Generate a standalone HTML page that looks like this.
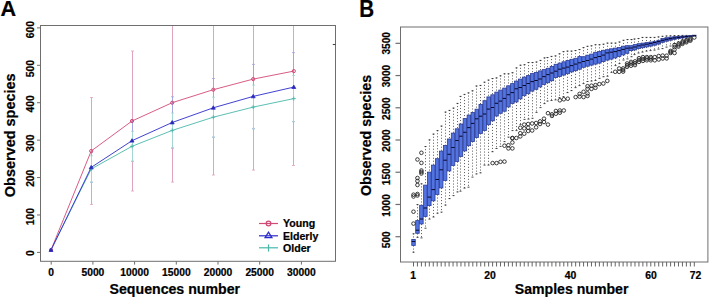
<!DOCTYPE html>
<html><head><meta charset="utf-8"><style>
html,body{margin:0;padding:0;background:#fff;}
svg{display:block;}
text{font-family:"Liberation Sans", sans-serif;fill:#000;stroke:#000;stroke-width:0.22px;}
</style></head><body>
<svg width="710" height="299" viewBox="0 0 710 299">
<rect width="710" height="299" fill="#fff"/>
<rect x="40.5" y="25.5" width="295" height="235.8" fill="none" stroke="#6e6e6e" stroke-width="1"/>
<line x1="37" y1="252.40" x2="40.5" y2="252.40" stroke="#6e6e6e" stroke-width="1"/>
<text transform="translate(34.4 253.10) rotate(-90)" text-anchor="middle" font-size="10.3" font-weight="bold">0</text>
<line x1="37" y1="214.98" x2="40.5" y2="214.98" stroke="#6e6e6e" stroke-width="1"/>
<text transform="translate(34.4 216.68) rotate(-90)" text-anchor="middle" font-size="10.3" font-weight="bold">100</text>
<line x1="37" y1="177.57" x2="40.5" y2="177.57" stroke="#6e6e6e" stroke-width="1"/>
<text transform="translate(34.4 178.27) rotate(-90)" text-anchor="middle" font-size="10.3" font-weight="bold">200</text>
<line x1="37" y1="140.15" x2="40.5" y2="140.15" stroke="#6e6e6e" stroke-width="1"/>
<text transform="translate(34.4 143.15) rotate(-90)" text-anchor="middle" font-size="10.3" font-weight="bold">300</text>
<line x1="37" y1="102.73" x2="40.5" y2="102.73" stroke="#6e6e6e" stroke-width="1"/>
<text transform="translate(34.4 103.83) rotate(-90)" text-anchor="middle" font-size="10.3" font-weight="bold">400</text>
<line x1="37" y1="65.31" x2="40.5" y2="65.31" stroke="#6e6e6e" stroke-width="1"/>
<text transform="translate(34.4 68.72) rotate(-90)" text-anchor="middle" font-size="10.3" font-weight="bold">500</text>
<line x1="37" y1="27.90" x2="40.5" y2="27.90" stroke="#6e6e6e" stroke-width="1"/>
<text transform="translate(34.4 29.65) rotate(-90)" text-anchor="middle" font-size="10.3" font-weight="bold">600</text>
<line x1="51.20" y1="261.3" x2="51.20" y2="264.6" stroke="#6e6e6e" stroke-width="1"/>
<text x="51.20" y="276.2" text-anchor="middle" font-size="10.3" font-weight="bold">0</text>
<line x1="92.90" y1="261.3" x2="92.90" y2="264.6" stroke="#6e6e6e" stroke-width="1"/>
<text x="92.90" y="276.2" text-anchor="middle" font-size="10.3" font-weight="bold">5000</text>
<line x1="134.60" y1="261.3" x2="134.60" y2="264.6" stroke="#6e6e6e" stroke-width="1"/>
<text x="134.60" y="276.2" text-anchor="middle" font-size="10.3" font-weight="bold">10000</text>
<line x1="176.30" y1="261.3" x2="176.30" y2="264.6" stroke="#6e6e6e" stroke-width="1"/>
<text x="176.30" y="276.2" text-anchor="middle" font-size="10.3" font-weight="bold">15000</text>
<line x1="218.00" y1="261.3" x2="218.00" y2="264.6" stroke="#6e6e6e" stroke-width="1"/>
<text x="218.00" y="276.2" text-anchor="middle" font-size="10.3" font-weight="bold">20000</text>
<line x1="259.70" y1="261.3" x2="259.70" y2="264.6" stroke="#6e6e6e" stroke-width="1"/>
<text x="259.70" y="276.2" text-anchor="middle" font-size="10.3" font-weight="bold">25000</text>
<line x1="301.40" y1="261.3" x2="301.40" y2="264.6" stroke="#6e6e6e" stroke-width="1"/>
<text x="301.40" y="276.2" text-anchor="middle" font-size="10.3" font-weight="bold">30000</text>
<line x1="332.8" y1="44.5" x2="335.5" y2="44.5" stroke="#444" stroke-width="1.1"/>
<text x="174.8" y="293.9" text-anchor="middle" font-size="14" font-weight="bold" textLength="130.5" lengthAdjust="spacingAndGlyphs">Sequences number</text>
<text transform="translate(14.6 135.3) rotate(-90)" text-anchor="middle" font-size="14.2" font-weight="bold" textLength="123.7" lengthAdjust="spacingAndGlyphs">Observed species</text>
<text x="0.6" y="15.7" font-size="22.8" font-weight="bold" textLength="15.6" lengthAdjust="spacingAndGlyphs">A</text>
<defs><clipPath id="ca"><rect x="41" y="26" width="294" height="235"/></clipPath></defs>
<g clip-path="url(#ca)">
<line x1="91.5" y1="97.50" x2="91.5" y2="204.50" stroke="#dfa4bd" stroke-width="1"/>
<line x1="90.0" y1="97.50" x2="93.0" y2="97.50" stroke="#dfa4bd" stroke-width="0.9" opacity="0.9"/>
<line x1="90.0" y1="204.50" x2="93.0" y2="204.50" stroke="#dfa4bd" stroke-width="0.9" opacity="0.9"/>
<line x1="132.5" y1="51.00" x2="132.5" y2="191.00" stroke="#dfa4bd" stroke-width="1"/>
<line x1="131.0" y1="51.00" x2="134.0" y2="51.00" stroke="#dfa4bd" stroke-width="0.9" opacity="0.9"/>
<line x1="131.0" y1="191.00" x2="134.0" y2="191.00" stroke="#dfa4bd" stroke-width="0.9" opacity="0.9"/>
<line x1="172.5" y1="23.30" x2="172.5" y2="182.10" stroke="#dfa4bd" stroke-width="1"/>
<line x1="171.0" y1="23.30" x2="174.0" y2="23.30" stroke="#dfa4bd" stroke-width="0.9" opacity="0.9"/>
<line x1="171.0" y1="182.10" x2="174.0" y2="182.10" stroke="#dfa4bd" stroke-width="0.9" opacity="0.9"/>
<line x1="213.5" y1="4.40" x2="213.5" y2="175.00" stroke="#dfa4bd" stroke-width="1"/>
<line x1="212.0" y1="4.40" x2="215.0" y2="4.40" stroke="#dfa4bd" stroke-width="0.9" opacity="0.9"/>
<line x1="212.0" y1="175.00" x2="215.0" y2="175.00" stroke="#dfa4bd" stroke-width="0.9" opacity="0.9"/>
<line x1="253.5" y1="-11.90" x2="253.5" y2="170.10" stroke="#dfa4bd" stroke-width="1"/>
<line x1="252.0" y1="-11.90" x2="255.0" y2="-11.90" stroke="#dfa4bd" stroke-width="0.9" opacity="0.9"/>
<line x1="252.0" y1="170.10" x2="255.0" y2="170.10" stroke="#dfa4bd" stroke-width="0.9" opacity="0.9"/>
<line x1="293.5" y1="-23.30" x2="293.5" y2="165.50" stroke="#dfa4bd" stroke-width="1"/>
<line x1="292.0" y1="-23.30" x2="295.0" y2="-23.30" stroke="#dfa4bd" stroke-width="0.9" opacity="0.9"/>
<line x1="292.0" y1="165.50" x2="295.0" y2="165.50" stroke="#dfa4bd" stroke-width="0.9" opacity="0.9"/>
<line x1="91.5" y1="152.60" x2="91.5" y2="182.20" stroke="#a4a4e2" stroke-width="1"/>
<line x1="90.0" y1="152.60" x2="93.0" y2="152.60" stroke="#a4a4e2" stroke-width="0.9" opacity="0.9"/>
<line x1="90.0" y1="182.20" x2="93.0" y2="182.20" stroke="#a4a4e2" stroke-width="0.9" opacity="0.9"/>
<line x1="132.5" y1="120.10" x2="132.5" y2="161.30" stroke="#a4a4e2" stroke-width="1"/>
<line x1="131.0" y1="120.10" x2="134.0" y2="120.10" stroke="#a4a4e2" stroke-width="0.9" opacity="0.9"/>
<line x1="131.0" y1="161.30" x2="134.0" y2="161.30" stroke="#a4a4e2" stroke-width="0.9" opacity="0.9"/>
<line x1="172.5" y1="96.80" x2="172.5" y2="148.20" stroke="#a4a4e2" stroke-width="1"/>
<line x1="171.0" y1="96.80" x2="174.0" y2="96.80" stroke="#a4a4e2" stroke-width="0.9" opacity="0.9"/>
<line x1="171.0" y1="148.20" x2="174.0" y2="148.20" stroke="#a4a4e2" stroke-width="0.9" opacity="0.9"/>
<line x1="213.5" y1="78.50" x2="213.5" y2="137.10" stroke="#a4a4e2" stroke-width="1"/>
<line x1="212.0" y1="78.50" x2="215.0" y2="78.50" stroke="#a4a4e2" stroke-width="0.9" opacity="0.9"/>
<line x1="212.0" y1="137.10" x2="215.0" y2="137.10" stroke="#a4a4e2" stroke-width="0.9" opacity="0.9"/>
<line x1="253.5" y1="64.40" x2="253.5" y2="128.40" stroke="#a4a4e2" stroke-width="1"/>
<line x1="252.0" y1="64.40" x2="255.0" y2="64.40" stroke="#a4a4e2" stroke-width="0.9" opacity="0.9"/>
<line x1="252.0" y1="128.40" x2="255.0" y2="128.40" stroke="#a4a4e2" stroke-width="0.9" opacity="0.9"/>
<line x1="293.5" y1="52.60" x2="293.5" y2="121.60" stroke="#a4a4e2" stroke-width="1"/>
<line x1="292.0" y1="52.60" x2="295.0" y2="52.60" stroke="#a4a4e2" stroke-width="0.9" opacity="0.9"/>
<line x1="292.0" y1="121.60" x2="295.0" y2="121.60" stroke="#a4a4e2" stroke-width="0.9" opacity="0.9"/>
<line x1="91.5" y1="155.80" x2="91.5" y2="182.20" stroke="#a4d6d2" stroke-width="1"/>
<line x1="90.0" y1="155.80" x2="93.0" y2="155.80" stroke="#a4d6d2" stroke-width="0.9" opacity="0.9"/>
<line x1="90.0" y1="182.20" x2="93.0" y2="182.20" stroke="#a4d6d2" stroke-width="0.9" opacity="0.9"/>
<line x1="132.5" y1="131.30" x2="132.5" y2="161.30" stroke="#a4d6d2" stroke-width="1"/>
<line x1="131.0" y1="131.30" x2="134.0" y2="131.30" stroke="#a4d6d2" stroke-width="0.9" opacity="0.9"/>
<line x1="131.0" y1="161.30" x2="134.0" y2="161.30" stroke="#a4d6d2" stroke-width="0.9" opacity="0.9"/>
<line x1="172.5" y1="113.00" x2="172.5" y2="147.80" stroke="#a4d6d2" stroke-width="1"/>
<line x1="171.0" y1="113.00" x2="174.0" y2="113.00" stroke="#a4d6d2" stroke-width="0.9" opacity="0.9"/>
<line x1="171.0" y1="147.80" x2="174.0" y2="147.80" stroke="#a4d6d2" stroke-width="0.9" opacity="0.9"/>
<line x1="213.5" y1="97.20" x2="213.5" y2="137.20" stroke="#a4d6d2" stroke-width="1"/>
<line x1="212.0" y1="97.20" x2="215.0" y2="97.20" stroke="#a4d6d2" stroke-width="0.9" opacity="0.9"/>
<line x1="212.0" y1="137.20" x2="215.0" y2="137.20" stroke="#a4d6d2" stroke-width="0.9" opacity="0.9"/>
<line x1="253.5" y1="85.10" x2="253.5" y2="129.10" stroke="#a4d6d2" stroke-width="1"/>
<line x1="252.0" y1="85.10" x2="255.0" y2="85.10" stroke="#a4d6d2" stroke-width="0.9" opacity="0.9"/>
<line x1="252.0" y1="129.10" x2="255.0" y2="129.10" stroke="#a4d6d2" stroke-width="0.9" opacity="0.9"/>
<line x1="293.5" y1="75.60" x2="293.5" y2="121.60" stroke="#a4d6d2" stroke-width="1"/>
<line x1="292.0" y1="75.60" x2="295.0" y2="75.60" stroke="#a4d6d2" stroke-width="0.9" opacity="0.9"/>
<line x1="292.0" y1="121.60" x2="295.0" y2="121.60" stroke="#a4d6d2" stroke-width="0.9" opacity="0.9"/>
<polyline points="51,250 91.2,169 132,146.3 172.2,130.4 213.3,117.2 253.2,107.1 293.8,98.6" fill="none" stroke="#48b8aa" stroke-width="0.9"/>
<polyline points="51,250 91.2,151 132,121 172.2,102.7 213.3,89.7 253.2,79.1 293.8,71.1" fill="none" stroke="#d24a76" stroke-width="0.9"/>
<polyline points="51,250 91.2,167.4 132,140.7 172.2,122.5 213.3,107.8 253.2,96.4 293.8,87.1" fill="none" stroke="#2b2bcc" stroke-width="0.9"/>
<path d="M49,250 H53 M51,248 V252" stroke="#48b8aa" stroke-width="0.9"/>
<path d="M89.2,169 H93.2 M91.2,167 V171" stroke="#48b8aa" stroke-width="0.9"/>
<path d="M130,146.3 H134 M132,144.3 V148.3" stroke="#48b8aa" stroke-width="0.9"/>
<path d="M170.2,130.4 H174.2 M172.2,128.4 V132.4" stroke="#48b8aa" stroke-width="0.9"/>
<path d="M211.3,117.2 H215.3 M213.3,115.2 V119.2" stroke="#48b8aa" stroke-width="0.9"/>
<path d="M251.2,107.1 H255.2 M253.2,105.1 V109.1" stroke="#48b8aa" stroke-width="0.9"/>
<path d="M291.8,98.6 H295.8 M293.8,96.6 V100.6" stroke="#48b8aa" stroke-width="0.9"/>
<circle cx="51" cy="250" r="1.6" fill="none" stroke="#d24a76" stroke-width="1"/>
<circle cx="91.2" cy="151" r="1.6" fill="none" stroke="#d24a76" stroke-width="1"/>
<circle cx="132" cy="121" r="1.6" fill="none" stroke="#d24a76" stroke-width="1"/>
<circle cx="172.2" cy="102.7" r="1.6" fill="none" stroke="#d24a76" stroke-width="1"/>
<circle cx="213.3" cy="89.7" r="1.6" fill="none" stroke="#d24a76" stroke-width="1"/>
<circle cx="253.2" cy="79.1" r="1.6" fill="none" stroke="#d24a76" stroke-width="1"/>
<circle cx="293.8" cy="71.1" r="1.6" fill="none" stroke="#d24a76" stroke-width="1"/>
<path d="M49,251.4 L53,251.4 L51,248 Z" fill="#2a2aa0" stroke="#2b2bcc" stroke-width="0.8"/>
<path d="M89.2,168.8 L93.2,168.8 L91.2,165.4 Z" fill="#2a2aa0" stroke="#2b2bcc" stroke-width="0.8"/>
<path d="M130,142.1 L134,142.1 L132,138.7 Z" fill="#2a2aa0" stroke="#2b2bcc" stroke-width="0.8"/>
<path d="M170.2,123.9 L174.2,123.9 L172.2,120.5 Z" fill="#2a2aa0" stroke="#2b2bcc" stroke-width="0.8"/>
<path d="M211.3,109.2 L215.3,109.2 L213.3,105.8 Z" fill="#2a2aa0" stroke="#2b2bcc" stroke-width="0.8"/>
<path d="M251.2,97.80000000000001 L255.2,97.80000000000001 L253.2,94.4 Z" fill="#2a2aa0" stroke="#2b2bcc" stroke-width="0.8"/>
<path d="M291.8,88.5 L295.8,88.5 L293.8,85.1 Z" fill="#2a2aa0" stroke="#2b2bcc" stroke-width="0.8"/>
</g>
<line x1="259" y1="223.5" x2="278" y2="223.5" stroke="#d24a76" stroke-width="1.2"/>
<circle cx="268.5" cy="223.5" r="2.3" fill="none" stroke="#d24a76" stroke-width="1.3"/>
<text x="283" y="227.4" font-size="10.6" font-weight="bold">Young</text>
<line x1="259" y1="235.8" x2="278" y2="235.8" stroke="#2b2bcc" stroke-width="1.2"/>
<path d="M265.1,237.60000000000002 L271.9,237.60000000000002 L268.5,232.20000000000002 Z" fill="none" stroke="#2b2bcc" stroke-width="1.3"/>
<text x="283" y="239.7" font-size="10.6" font-weight="bold">Elderly</text>
<line x1="259" y1="247.8" x2="278" y2="247.8" stroke="#48b8aa" stroke-width="1.2"/>
<path d="M268.5,244.4 V251.60000000000002" stroke="#48b8aa" stroke-width="1.2"/>
<text x="283" y="251.7" font-size="10.6" font-weight="bold">Older</text>
<rect x="400.5" y="27" width="307.4" height="235" fill="none" stroke="#6e6e6e" stroke-width="1"/>
<line x1="395.5" y1="236.70" x2="400.5" y2="236.70" stroke="#6e6e6e" stroke-width="1.2"/>
<text transform="translate(390.3 239.80) rotate(-90)" text-anchor="middle" font-size="10.1" font-weight="bold">500</text>
<line x1="395.5" y1="204.47" x2="400.5" y2="204.47" stroke="#6e6e6e" stroke-width="1.2"/>
<text transform="translate(390.3 205.47) rotate(-90)" text-anchor="middle" font-size="10.1" font-weight="bold">1000</text>
<line x1="395.5" y1="172.24" x2="400.5" y2="172.24" stroke="#6e6e6e" stroke-width="1.2"/>
<text transform="translate(390.3 173.94) rotate(-90)" text-anchor="middle" font-size="10.1" font-weight="bold">1500</text>
<line x1="395.5" y1="140.01" x2="400.5" y2="140.01" stroke="#6e6e6e" stroke-width="1.2"/>
<text transform="translate(390.3 140.51) rotate(-90)" text-anchor="middle" font-size="10.1" font-weight="bold">2000</text>
<line x1="395.5" y1="107.78" x2="400.5" y2="107.78" stroke="#6e6e6e" stroke-width="1.2"/>
<text transform="translate(390.3 108.68) rotate(-90)" text-anchor="middle" font-size="10.1" font-weight="bold">2500</text>
<line x1="395.5" y1="75.55" x2="400.5" y2="75.55" stroke="#6e6e6e" stroke-width="1.2"/>
<text transform="translate(390.3 76.05) rotate(-90)" text-anchor="middle" font-size="10.1" font-weight="bold">3000</text>
<line x1="395.5" y1="43.32" x2="400.5" y2="43.32" stroke="#6e6e6e" stroke-width="1.2"/>
<text transform="translate(390.3 43.32) rotate(-90)" text-anchor="middle" font-size="10.1" font-weight="bold">3500</text>
<line x1="413.50" y1="262" x2="413.50" y2="266.5" stroke="#555" stroke-width="0.9"/>
<line x1="417.45" y1="262" x2="417.45" y2="266.5" stroke="#555" stroke-width="0.9"/>
<line x1="421.41" y1="262" x2="421.41" y2="266.5" stroke="#555" stroke-width="0.9"/>
<line x1="425.37" y1="262" x2="425.37" y2="266.5" stroke="#555" stroke-width="0.9"/>
<line x1="429.32" y1="262" x2="429.32" y2="266.5" stroke="#555" stroke-width="0.9"/>
<line x1="433.27" y1="262" x2="433.27" y2="266.5" stroke="#555" stroke-width="0.9"/>
<line x1="437.23" y1="262" x2="437.23" y2="266.5" stroke="#555" stroke-width="0.9"/>
<line x1="441.19" y1="262" x2="441.19" y2="266.5" stroke="#555" stroke-width="0.9"/>
<line x1="445.14" y1="262" x2="445.14" y2="266.5" stroke="#555" stroke-width="0.9"/>
<line x1="449.10" y1="262" x2="449.10" y2="266.5" stroke="#555" stroke-width="0.9"/>
<line x1="453.05" y1="262" x2="453.05" y2="266.5" stroke="#555" stroke-width="0.9"/>
<line x1="457.00" y1="262" x2="457.00" y2="266.5" stroke="#555" stroke-width="0.9"/>
<line x1="460.96" y1="262" x2="460.96" y2="266.5" stroke="#555" stroke-width="0.9"/>
<line x1="464.92" y1="262" x2="464.92" y2="266.5" stroke="#555" stroke-width="0.9"/>
<line x1="468.87" y1="262" x2="468.87" y2="266.5" stroke="#555" stroke-width="0.9"/>
<line x1="472.82" y1="262" x2="472.82" y2="266.5" stroke="#555" stroke-width="0.9"/>
<line x1="476.78" y1="262" x2="476.78" y2="266.5" stroke="#555" stroke-width="0.9"/>
<line x1="480.74" y1="262" x2="480.74" y2="266.5" stroke="#555" stroke-width="0.9"/>
<line x1="484.69" y1="262" x2="484.69" y2="266.5" stroke="#555" stroke-width="0.9"/>
<line x1="488.64" y1="262" x2="488.64" y2="266.5" stroke="#555" stroke-width="0.9"/>
<line x1="492.60" y1="262" x2="492.60" y2="266.5" stroke="#555" stroke-width="0.9"/>
<line x1="496.56" y1="262" x2="496.56" y2="266.5" stroke="#555" stroke-width="0.9"/>
<line x1="500.51" y1="262" x2="500.51" y2="266.5" stroke="#555" stroke-width="0.9"/>
<line x1="504.47" y1="262" x2="504.47" y2="266.5" stroke="#555" stroke-width="0.9"/>
<line x1="508.42" y1="262" x2="508.42" y2="266.5" stroke="#555" stroke-width="0.9"/>
<line x1="512.38" y1="262" x2="512.38" y2="266.5" stroke="#555" stroke-width="0.9"/>
<line x1="516.33" y1="262" x2="516.33" y2="266.5" stroke="#555" stroke-width="0.9"/>
<line x1="520.28" y1="262" x2="520.28" y2="266.5" stroke="#555" stroke-width="0.9"/>
<line x1="524.24" y1="262" x2="524.24" y2="266.5" stroke="#555" stroke-width="0.9"/>
<line x1="528.20" y1="262" x2="528.20" y2="266.5" stroke="#555" stroke-width="0.9"/>
<line x1="532.15" y1="262" x2="532.15" y2="266.5" stroke="#555" stroke-width="0.9"/>
<line x1="536.11" y1="262" x2="536.11" y2="266.5" stroke="#555" stroke-width="0.9"/>
<line x1="540.06" y1="262" x2="540.06" y2="266.5" stroke="#555" stroke-width="0.9"/>
<line x1="544.01" y1="262" x2="544.01" y2="266.5" stroke="#555" stroke-width="0.9"/>
<line x1="547.97" y1="262" x2="547.97" y2="266.5" stroke="#555" stroke-width="0.9"/>
<line x1="551.92" y1="262" x2="551.92" y2="266.5" stroke="#555" stroke-width="0.9"/>
<line x1="555.88" y1="262" x2="555.88" y2="266.5" stroke="#555" stroke-width="0.9"/>
<line x1="559.84" y1="262" x2="559.84" y2="266.5" stroke="#555" stroke-width="0.9"/>
<line x1="563.79" y1="262" x2="563.79" y2="266.5" stroke="#555" stroke-width="0.9"/>
<line x1="567.75" y1="262" x2="567.75" y2="266.5" stroke="#555" stroke-width="0.9"/>
<line x1="571.70" y1="262" x2="571.70" y2="266.5" stroke="#555" stroke-width="0.9"/>
<line x1="575.65" y1="262" x2="575.65" y2="266.5" stroke="#555" stroke-width="0.9"/>
<line x1="579.61" y1="262" x2="579.61" y2="266.5" stroke="#555" stroke-width="0.9"/>
<line x1="583.57" y1="262" x2="583.57" y2="266.5" stroke="#555" stroke-width="0.9"/>
<line x1="587.52" y1="262" x2="587.52" y2="266.5" stroke="#555" stroke-width="0.9"/>
<line x1="591.48" y1="262" x2="591.48" y2="266.5" stroke="#555" stroke-width="0.9"/>
<line x1="595.43" y1="262" x2="595.43" y2="266.5" stroke="#555" stroke-width="0.9"/>
<line x1="599.38" y1="262" x2="599.38" y2="266.5" stroke="#555" stroke-width="0.9"/>
<line x1="603.34" y1="262" x2="603.34" y2="266.5" stroke="#555" stroke-width="0.9"/>
<line x1="607.30" y1="262" x2="607.30" y2="266.5" stroke="#555" stroke-width="0.9"/>
<line x1="611.25" y1="262" x2="611.25" y2="266.5" stroke="#555" stroke-width="0.9"/>
<line x1="615.21" y1="262" x2="615.21" y2="266.5" stroke="#555" stroke-width="0.9"/>
<line x1="619.16" y1="262" x2="619.16" y2="266.5" stroke="#555" stroke-width="0.9"/>
<line x1="623.12" y1="262" x2="623.12" y2="266.5" stroke="#555" stroke-width="0.9"/>
<line x1="627.07" y1="262" x2="627.07" y2="266.5" stroke="#555" stroke-width="0.9"/>
<line x1="631.02" y1="262" x2="631.02" y2="266.5" stroke="#555" stroke-width="0.9"/>
<line x1="634.98" y1="262" x2="634.98" y2="266.5" stroke="#555" stroke-width="0.9"/>
<line x1="638.93" y1="262" x2="638.93" y2="266.5" stroke="#555" stroke-width="0.9"/>
<line x1="642.89" y1="262" x2="642.89" y2="266.5" stroke="#555" stroke-width="0.9"/>
<line x1="646.85" y1="262" x2="646.85" y2="266.5" stroke="#555" stroke-width="0.9"/>
<line x1="650.80" y1="262" x2="650.80" y2="266.5" stroke="#555" stroke-width="0.9"/>
<line x1="654.75" y1="262" x2="654.75" y2="266.5" stroke="#555" stroke-width="0.9"/>
<line x1="658.71" y1="262" x2="658.71" y2="266.5" stroke="#555" stroke-width="0.9"/>
<line x1="662.66" y1="262" x2="662.66" y2="266.5" stroke="#555" stroke-width="0.9"/>
<line x1="666.62" y1="262" x2="666.62" y2="266.5" stroke="#555" stroke-width="0.9"/>
<line x1="670.58" y1="262" x2="670.58" y2="266.5" stroke="#555" stroke-width="0.9"/>
<line x1="674.53" y1="262" x2="674.53" y2="266.5" stroke="#555" stroke-width="0.9"/>
<line x1="678.49" y1="262" x2="678.49" y2="266.5" stroke="#555" stroke-width="0.9"/>
<line x1="682.44" y1="262" x2="682.44" y2="266.5" stroke="#555" stroke-width="0.9"/>
<line x1="686.39" y1="262" x2="686.39" y2="266.5" stroke="#555" stroke-width="0.9"/>
<line x1="690.35" y1="262" x2="690.35" y2="266.5" stroke="#555" stroke-width="0.9"/>
<line x1="694.31" y1="262" x2="694.31" y2="266.5" stroke="#555" stroke-width="0.9"/>
<text x="413.2" y="278.6" text-anchor="middle" font-size="10.4" font-weight="bold">1</text>
<text x="490.1" y="278.6" text-anchor="middle" font-size="10.4" font-weight="bold">20</text>
<text x="570.6" y="278.6" text-anchor="middle" font-size="10.4" font-weight="bold">40</text>
<text x="651" y="278.6" text-anchor="middle" font-size="10.4" font-weight="bold">60</text>
<text x="695.5" y="278.6" text-anchor="middle" font-size="10.4" font-weight="bold">72</text>
<text x="571.6" y="293.8" text-anchor="middle" font-size="14" font-weight="bold" textLength="113.7" lengthAdjust="spacingAndGlyphs">Samples number</text>
<text transform="translate(371 135.5) rotate(-90)" text-anchor="middle" font-size="14" font-weight="bold" textLength="121" lengthAdjust="spacingAndGlyphs">Observed species</text>
<text x="359.3" y="16.6" font-size="23" font-weight="bold" textLength="14.9" lengthAdjust="spacingAndGlyphs">B</text>
<line x1="413.50" y1="233.40" x2="413.50" y2="239.30" stroke="#666" stroke-width="1" stroke-dasharray="1.1 1.9"/>
<line x1="412.50" y1="233.80" x2="414.50" y2="233.80" stroke="#333" stroke-width="0.9"/>
<line x1="413.50" y1="245.50" x2="413.50" y2="252.60" stroke="#666" stroke-width="1" stroke-dasharray="1.1 1.9"/>
<line x1="412.50" y1="252.20" x2="414.50" y2="252.20" stroke="#333" stroke-width="0.9"/>
<line x1="417.50" y1="204.20" x2="417.50" y2="220.50" stroke="#666" stroke-width="1" stroke-dasharray="1.1 1.9"/>
<line x1="416.50" y1="204.60" x2="418.50" y2="204.60" stroke="#333" stroke-width="0.9"/>
<line x1="417.50" y1="233.40" x2="417.50" y2="237.70" stroke="#666" stroke-width="1" stroke-dasharray="1.1 1.9"/>
<line x1="416.50" y1="237.30" x2="418.50" y2="237.30" stroke="#333" stroke-width="0.9"/>
<line x1="421.50" y1="183.40" x2="421.50" y2="205.20" stroke="#666" stroke-width="1" stroke-dasharray="1.1 1.9"/>
<line x1="420.50" y1="183.80" x2="422.50" y2="183.80" stroke="#333" stroke-width="0.9"/>
<line x1="421.50" y1="224.00" x2="421.50" y2="238.30" stroke="#666" stroke-width="1" stroke-dasharray="1.1 1.9"/>
<line x1="420.50" y1="237.90" x2="422.50" y2="237.90" stroke="#333" stroke-width="0.9"/>
<line x1="425.50" y1="146.10" x2="425.50" y2="185.00" stroke="#666" stroke-width="1" stroke-dasharray="1.1 1.9"/>
<line x1="424.50" y1="146.50" x2="426.50" y2="146.50" stroke="#333" stroke-width="0.9"/>
<line x1="425.50" y1="216.50" x2="425.50" y2="228.60" stroke="#666" stroke-width="1" stroke-dasharray="1.1 1.9"/>
<line x1="424.50" y1="228.20" x2="426.50" y2="228.20" stroke="#333" stroke-width="0.9"/>
<line x1="429.50" y1="139.50" x2="429.50" y2="172.00" stroke="#666" stroke-width="1" stroke-dasharray="1.1 1.9"/>
<line x1="428.50" y1="139.90" x2="430.50" y2="139.90" stroke="#333" stroke-width="0.9"/>
<line x1="429.50" y1="205.70" x2="429.50" y2="219.50" stroke="#666" stroke-width="1" stroke-dasharray="1.1 1.9"/>
<line x1="428.50" y1="219.10" x2="430.50" y2="219.10" stroke="#333" stroke-width="0.9"/>
<line x1="433.50" y1="133.70" x2="433.50" y2="165.00" stroke="#666" stroke-width="1" stroke-dasharray="1.1 1.9"/>
<line x1="432.50" y1="134.10" x2="434.50" y2="134.10" stroke="#333" stroke-width="0.9"/>
<line x1="433.50" y1="200.90" x2="433.50" y2="217.40" stroke="#666" stroke-width="1" stroke-dasharray="1.1 1.9"/>
<line x1="432.50" y1="217.00" x2="434.50" y2="217.00" stroke="#333" stroke-width="0.9"/>
<line x1="437.50" y1="130.20" x2="437.50" y2="158.60" stroke="#666" stroke-width="1" stroke-dasharray="1.1 1.9"/>
<line x1="436.50" y1="130.60" x2="438.50" y2="130.60" stroke="#333" stroke-width="0.9"/>
<line x1="437.50" y1="194.50" x2="437.50" y2="213.60" stroke="#666" stroke-width="1" stroke-dasharray="1.1 1.9"/>
<line x1="436.50" y1="213.20" x2="438.50" y2="213.20" stroke="#333" stroke-width="0.9"/>
<line x1="441.50" y1="125.70" x2="441.50" y2="151.00" stroke="#666" stroke-width="1" stroke-dasharray="1.1 1.9"/>
<line x1="440.50" y1="126.10" x2="442.50" y2="126.10" stroke="#333" stroke-width="0.9"/>
<line x1="441.50" y1="188.00" x2="441.50" y2="212.50" stroke="#666" stroke-width="1" stroke-dasharray="1.1 1.9"/>
<line x1="440.50" y1="212.10" x2="442.50" y2="212.10" stroke="#333" stroke-width="0.9"/>
<line x1="445.50" y1="111.70" x2="445.50" y2="145.30" stroke="#666" stroke-width="1" stroke-dasharray="1.1 1.9"/>
<line x1="444.50" y1="112.10" x2="446.50" y2="112.10" stroke="#333" stroke-width="0.9"/>
<line x1="445.50" y1="180.50" x2="445.50" y2="205.50" stroke="#666" stroke-width="1" stroke-dasharray="1.1 1.9"/>
<line x1="444.50" y1="205.10" x2="446.50" y2="205.10" stroke="#333" stroke-width="0.9"/>
<line x1="449.50" y1="110.00" x2="449.50" y2="138.90" stroke="#666" stroke-width="1" stroke-dasharray="1.1 1.9"/>
<line x1="448.50" y1="110.40" x2="450.50" y2="110.40" stroke="#333" stroke-width="0.9"/>
<line x1="449.50" y1="171.00" x2="449.50" y2="199.00" stroke="#666" stroke-width="1" stroke-dasharray="1.1 1.9"/>
<line x1="448.50" y1="198.60" x2="450.50" y2="198.60" stroke="#333" stroke-width="0.9"/>
<line x1="453.50" y1="107.70" x2="453.50" y2="133.00" stroke="#666" stroke-width="1" stroke-dasharray="1.1 1.9"/>
<line x1="452.50" y1="108.10" x2="454.50" y2="108.10" stroke="#333" stroke-width="0.9"/>
<line x1="453.50" y1="165.50" x2="453.50" y2="196.00" stroke="#666" stroke-width="1" stroke-dasharray="1.1 1.9"/>
<line x1="452.50" y1="195.60" x2="454.50" y2="195.60" stroke="#333" stroke-width="0.9"/>
<line x1="457.50" y1="103.00" x2="457.50" y2="128.70" stroke="#666" stroke-width="1" stroke-dasharray="1.1 1.9"/>
<line x1="456.50" y1="103.40" x2="458.50" y2="103.40" stroke="#333" stroke-width="0.9"/>
<line x1="457.50" y1="161.60" x2="457.50" y2="192.30" stroke="#666" stroke-width="1" stroke-dasharray="1.1 1.9"/>
<line x1="456.50" y1="191.90" x2="458.50" y2="191.90" stroke="#333" stroke-width="0.9"/>
<line x1="460.50" y1="96.00" x2="460.50" y2="123.90" stroke="#666" stroke-width="1" stroke-dasharray="1.1 1.9"/>
<line x1="459.50" y1="96.40" x2="461.50" y2="96.40" stroke="#333" stroke-width="0.9"/>
<line x1="460.50" y1="156.50" x2="460.50" y2="191.60" stroke="#666" stroke-width="1" stroke-dasharray="1.1 1.9"/>
<line x1="459.50" y1="191.20" x2="461.50" y2="191.20" stroke="#333" stroke-width="0.9"/>
<line x1="464.50" y1="94.00" x2="464.50" y2="118.50" stroke="#666" stroke-width="1" stroke-dasharray="1.1 1.9"/>
<line x1="463.50" y1="94.40" x2="465.50" y2="94.40" stroke="#333" stroke-width="0.9"/>
<line x1="464.50" y1="151.00" x2="464.50" y2="188.50" stroke="#666" stroke-width="1" stroke-dasharray="1.1 1.9"/>
<line x1="463.50" y1="188.10" x2="465.50" y2="188.10" stroke="#333" stroke-width="0.9"/>
<line x1="468.50" y1="92.50" x2="468.50" y2="115.00" stroke="#666" stroke-width="1" stroke-dasharray="1.1 1.9"/>
<line x1="467.50" y1="92.90" x2="469.50" y2="92.90" stroke="#333" stroke-width="0.9"/>
<line x1="468.50" y1="145.80" x2="468.50" y2="187.60" stroke="#666" stroke-width="1" stroke-dasharray="1.1 1.9"/>
<line x1="467.50" y1="187.20" x2="469.50" y2="187.20" stroke="#333" stroke-width="0.9"/>
<line x1="472.50" y1="90.40" x2="472.50" y2="112.40" stroke="#666" stroke-width="1" stroke-dasharray="1.1 1.9"/>
<line x1="471.50" y1="90.80" x2="473.50" y2="90.80" stroke="#333" stroke-width="0.9"/>
<line x1="472.50" y1="141.60" x2="472.50" y2="177.50" stroke="#666" stroke-width="1" stroke-dasharray="1.1 1.9"/>
<line x1="471.50" y1="177.10" x2="473.50" y2="177.10" stroke="#333" stroke-width="0.9"/>
<line x1="476.50" y1="85.60" x2="476.50" y2="109.10" stroke="#666" stroke-width="1" stroke-dasharray="1.1 1.9"/>
<line x1="475.50" y1="86.00" x2="477.50" y2="86.00" stroke="#333" stroke-width="0.9"/>
<line x1="476.50" y1="137.60" x2="476.50" y2="174.30" stroke="#666" stroke-width="1" stroke-dasharray="1.1 1.9"/>
<line x1="475.50" y1="173.90" x2="477.50" y2="173.90" stroke="#333" stroke-width="0.9"/>
<line x1="480.50" y1="85.00" x2="480.50" y2="104.30" stroke="#666" stroke-width="1" stroke-dasharray="1.1 1.9"/>
<line x1="479.50" y1="85.40" x2="481.50" y2="85.40" stroke="#333" stroke-width="0.9"/>
<line x1="480.50" y1="133.50" x2="480.50" y2="173.20" stroke="#666" stroke-width="1" stroke-dasharray="1.1 1.9"/>
<line x1="479.50" y1="172.80" x2="481.50" y2="172.80" stroke="#333" stroke-width="0.9"/>
<line x1="484.50" y1="81.80" x2="484.50" y2="100.60" stroke="#666" stroke-width="1" stroke-dasharray="1.1 1.9"/>
<line x1="483.50" y1="82.20" x2="485.50" y2="82.20" stroke="#333" stroke-width="0.9"/>
<line x1="484.50" y1="130.50" x2="484.50" y2="165.50" stroke="#666" stroke-width="1" stroke-dasharray="1.1 1.9"/>
<line x1="483.50" y1="165.10" x2="485.50" y2="165.10" stroke="#333" stroke-width="0.9"/>
<line x1="488.50" y1="79.70" x2="488.50" y2="96.80" stroke="#666" stroke-width="1" stroke-dasharray="1.1 1.9"/>
<line x1="487.50" y1="80.10" x2="489.50" y2="80.10" stroke="#333" stroke-width="0.9"/>
<line x1="488.50" y1="124.80" x2="488.50" y2="165.50" stroke="#666" stroke-width="1" stroke-dasharray="1.1 1.9"/>
<line x1="487.50" y1="165.10" x2="489.50" y2="165.10" stroke="#333" stroke-width="0.9"/>
<line x1="492.50" y1="78.10" x2="492.50" y2="94.70" stroke="#666" stroke-width="1" stroke-dasharray="1.1 1.9"/>
<line x1="491.50" y1="78.50" x2="493.50" y2="78.50" stroke="#333" stroke-width="0.9"/>
<line x1="492.50" y1="120.90" x2="492.50" y2="152.10" stroke="#666" stroke-width="1" stroke-dasharray="1.1 1.9"/>
<line x1="491.50" y1="151.70" x2="493.50" y2="151.70" stroke="#333" stroke-width="0.9"/>
<line x1="496.50" y1="77.50" x2="496.50" y2="92.00" stroke="#666" stroke-width="1" stroke-dasharray="1.1 1.9"/>
<line x1="495.50" y1="77.90" x2="497.50" y2="77.90" stroke="#333" stroke-width="0.9"/>
<line x1="496.50" y1="116.10" x2="496.50" y2="148.90" stroke="#666" stroke-width="1" stroke-dasharray="1.1 1.9"/>
<line x1="495.50" y1="148.50" x2="497.50" y2="148.50" stroke="#333" stroke-width="0.9"/>
<line x1="500.50" y1="75.40" x2="500.50" y2="90.00" stroke="#666" stroke-width="1" stroke-dasharray="1.1 1.9"/>
<line x1="499.50" y1="75.80" x2="501.50" y2="75.80" stroke="#333" stroke-width="0.9"/>
<line x1="500.50" y1="113.40" x2="500.50" y2="146.80" stroke="#666" stroke-width="1" stroke-dasharray="1.1 1.9"/>
<line x1="499.50" y1="146.40" x2="501.50" y2="146.40" stroke="#333" stroke-width="0.9"/>
<line x1="504.50" y1="73.40" x2="504.50" y2="88.00" stroke="#666" stroke-width="1" stroke-dasharray="1.1 1.9"/>
<line x1="503.50" y1="73.80" x2="505.50" y2="73.80" stroke="#333" stroke-width="0.9"/>
<line x1="504.50" y1="111.30" x2="504.50" y2="142.00" stroke="#666" stroke-width="1" stroke-dasharray="1.1 1.9"/>
<line x1="503.50" y1="141.60" x2="505.50" y2="141.60" stroke="#333" stroke-width="0.9"/>
<line x1="508.50" y1="73.40" x2="508.50" y2="85.70" stroke="#666" stroke-width="1" stroke-dasharray="1.1 1.9"/>
<line x1="507.50" y1="73.80" x2="509.50" y2="73.80" stroke="#333" stroke-width="0.9"/>
<line x1="508.50" y1="107.00" x2="508.50" y2="137.50" stroke="#666" stroke-width="1" stroke-dasharray="1.1 1.9"/>
<line x1="507.50" y1="137.10" x2="509.50" y2="137.10" stroke="#333" stroke-width="0.9"/>
<line x1="512.50" y1="72.30" x2="512.50" y2="83.50" stroke="#666" stroke-width="1" stroke-dasharray="1.1 1.9"/>
<line x1="511.50" y1="72.70" x2="513.50" y2="72.70" stroke="#333" stroke-width="0.9"/>
<line x1="512.50" y1="103.50" x2="512.50" y2="131.00" stroke="#666" stroke-width="1" stroke-dasharray="1.1 1.9"/>
<line x1="511.50" y1="130.60" x2="513.50" y2="130.60" stroke="#333" stroke-width="0.9"/>
<line x1="516.50" y1="67.50" x2="516.50" y2="81.00" stroke="#666" stroke-width="1" stroke-dasharray="1.1 1.9"/>
<line x1="515.50" y1="67.90" x2="517.50" y2="67.90" stroke="#333" stroke-width="0.9"/>
<line x1="516.50" y1="102.00" x2="516.50" y2="131.00" stroke="#666" stroke-width="1" stroke-dasharray="1.1 1.9"/>
<line x1="515.50" y1="130.60" x2="517.50" y2="130.60" stroke="#333" stroke-width="0.9"/>
<line x1="520.50" y1="64.80" x2="520.50" y2="79.00" stroke="#666" stroke-width="1" stroke-dasharray="1.1 1.9"/>
<line x1="519.50" y1="65.20" x2="521.50" y2="65.20" stroke="#333" stroke-width="0.9"/>
<line x1="520.50" y1="99.00" x2="520.50" y2="125.00" stroke="#666" stroke-width="1" stroke-dasharray="1.1 1.9"/>
<line x1="519.50" y1="124.60" x2="521.50" y2="124.60" stroke="#333" stroke-width="0.9"/>
<line x1="524.50" y1="64.30" x2="524.50" y2="77.00" stroke="#666" stroke-width="1" stroke-dasharray="1.1 1.9"/>
<line x1="523.50" y1="64.70" x2="525.50" y2="64.70" stroke="#333" stroke-width="0.9"/>
<line x1="524.50" y1="95.80" x2="524.50" y2="119.80" stroke="#666" stroke-width="1" stroke-dasharray="1.1 1.9"/>
<line x1="523.50" y1="119.40" x2="525.50" y2="119.40" stroke="#333" stroke-width="0.9"/>
<line x1="528.50" y1="62.10" x2="528.50" y2="75.50" stroke="#666" stroke-width="1" stroke-dasharray="1.1 1.9"/>
<line x1="527.50" y1="62.50" x2="529.50" y2="62.50" stroke="#333" stroke-width="0.9"/>
<line x1="528.50" y1="93.80" x2="528.50" y2="119.50" stroke="#666" stroke-width="1" stroke-dasharray="1.1 1.9"/>
<line x1="527.50" y1="119.10" x2="529.50" y2="119.10" stroke="#333" stroke-width="0.9"/>
<line x1="532.50" y1="62.10" x2="532.50" y2="73.50" stroke="#666" stroke-width="1" stroke-dasharray="1.1 1.9"/>
<line x1="531.50" y1="62.50" x2="533.50" y2="62.50" stroke="#333" stroke-width="0.9"/>
<line x1="532.50" y1="91.20" x2="532.50" y2="118.70" stroke="#666" stroke-width="1" stroke-dasharray="1.1 1.9"/>
<line x1="531.50" y1="118.30" x2="533.50" y2="118.30" stroke="#333" stroke-width="0.9"/>
<line x1="536.50" y1="61.60" x2="536.50" y2="72.30" stroke="#666" stroke-width="1" stroke-dasharray="1.1 1.9"/>
<line x1="535.50" y1="62.00" x2="537.50" y2="62.00" stroke="#333" stroke-width="0.9"/>
<line x1="536.50" y1="89.40" x2="536.50" y2="112.80" stroke="#666" stroke-width="1" stroke-dasharray="1.1 1.9"/>
<line x1="535.50" y1="112.40" x2="537.50" y2="112.40" stroke="#333" stroke-width="0.9"/>
<line x1="540.50" y1="60.00" x2="540.50" y2="70.80" stroke="#666" stroke-width="1" stroke-dasharray="1.1 1.9"/>
<line x1="539.50" y1="60.40" x2="541.50" y2="60.40" stroke="#333" stroke-width="0.9"/>
<line x1="540.50" y1="87.00" x2="540.50" y2="108.00" stroke="#666" stroke-width="1" stroke-dasharray="1.1 1.9"/>
<line x1="539.50" y1="107.60" x2="541.50" y2="107.60" stroke="#333" stroke-width="0.9"/>
<line x1="544.50" y1="57.50" x2="544.50" y2="69.50" stroke="#666" stroke-width="1" stroke-dasharray="1.1 1.9"/>
<line x1="543.50" y1="57.90" x2="545.50" y2="57.90" stroke="#333" stroke-width="0.9"/>
<line x1="544.50" y1="84.50" x2="544.50" y2="104.00" stroke="#666" stroke-width="1" stroke-dasharray="1.1 1.9"/>
<line x1="543.50" y1="103.60" x2="545.50" y2="103.60" stroke="#333" stroke-width="0.9"/>
<line x1="547.50" y1="57.10" x2="547.50" y2="68.20" stroke="#666" stroke-width="1" stroke-dasharray="1.1 1.9"/>
<line x1="546.50" y1="57.50" x2="548.50" y2="57.50" stroke="#333" stroke-width="0.9"/>
<line x1="547.50" y1="82.80" x2="547.50" y2="101.40" stroke="#666" stroke-width="1" stroke-dasharray="1.1 1.9"/>
<line x1="546.50" y1="101.00" x2="548.50" y2="101.00" stroke="#333" stroke-width="0.9"/>
<line x1="551.50" y1="56.00" x2="551.50" y2="66.30" stroke="#666" stroke-width="1" stroke-dasharray="1.1 1.9"/>
<line x1="550.50" y1="56.40" x2="552.50" y2="56.40" stroke="#333" stroke-width="0.9"/>
<line x1="551.50" y1="80.80" x2="551.50" y2="100.90" stroke="#666" stroke-width="1" stroke-dasharray="1.1 1.9"/>
<line x1="550.50" y1="100.50" x2="552.50" y2="100.50" stroke="#333" stroke-width="0.9"/>
<line x1="555.50" y1="55.50" x2="555.50" y2="64.20" stroke="#666" stroke-width="1" stroke-dasharray="1.1 1.9"/>
<line x1="554.50" y1="55.90" x2="556.50" y2="55.90" stroke="#333" stroke-width="0.9"/>
<line x1="555.50" y1="77.60" x2="555.50" y2="100.30" stroke="#666" stroke-width="1" stroke-dasharray="1.1 1.9"/>
<line x1="554.50" y1="99.90" x2="556.50" y2="99.90" stroke="#333" stroke-width="0.9"/>
<line x1="559.50" y1="53.40" x2="559.50" y2="63.00" stroke="#666" stroke-width="1" stroke-dasharray="1.1 1.9"/>
<line x1="558.50" y1="53.80" x2="560.50" y2="53.80" stroke="#333" stroke-width="0.9"/>
<line x1="559.50" y1="76.60" x2="559.50" y2="98.00" stroke="#666" stroke-width="1" stroke-dasharray="1.1 1.9"/>
<line x1="558.50" y1="97.60" x2="560.50" y2="97.60" stroke="#333" stroke-width="0.9"/>
<line x1="563.50" y1="51.20" x2="563.50" y2="61.70" stroke="#666" stroke-width="1" stroke-dasharray="1.1 1.9"/>
<line x1="562.50" y1="51.60" x2="564.50" y2="51.60" stroke="#333" stroke-width="0.9"/>
<line x1="563.50" y1="75.20" x2="563.50" y2="97.00" stroke="#666" stroke-width="1" stroke-dasharray="1.1 1.9"/>
<line x1="562.50" y1="96.60" x2="564.50" y2="96.60" stroke="#333" stroke-width="0.9"/>
<line x1="567.50" y1="50.70" x2="567.50" y2="60.30" stroke="#666" stroke-width="1" stroke-dasharray="1.1 1.9"/>
<line x1="566.50" y1="51.10" x2="568.50" y2="51.10" stroke="#333" stroke-width="0.9"/>
<line x1="567.50" y1="73.80" x2="567.50" y2="93.00" stroke="#666" stroke-width="1" stroke-dasharray="1.1 1.9"/>
<line x1="566.50" y1="92.60" x2="568.50" y2="92.60" stroke="#333" stroke-width="0.9"/>
<line x1="571.50" y1="50.70" x2="571.50" y2="59.20" stroke="#666" stroke-width="1" stroke-dasharray="1.1 1.9"/>
<line x1="570.50" y1="51.10" x2="572.50" y2="51.10" stroke="#333" stroke-width="0.9"/>
<line x1="571.50" y1="72.00" x2="571.50" y2="91.00" stroke="#666" stroke-width="1" stroke-dasharray="1.1 1.9"/>
<line x1="570.50" y1="90.60" x2="572.50" y2="90.60" stroke="#333" stroke-width="0.9"/>
<line x1="575.50" y1="50.10" x2="575.50" y2="58.20" stroke="#666" stroke-width="1" stroke-dasharray="1.1 1.9"/>
<line x1="574.50" y1="50.50" x2="576.50" y2="50.50" stroke="#333" stroke-width="0.9"/>
<line x1="575.50" y1="70.80" x2="575.50" y2="88.00" stroke="#666" stroke-width="1" stroke-dasharray="1.1 1.9"/>
<line x1="574.50" y1="87.60" x2="576.50" y2="87.60" stroke="#333" stroke-width="0.9"/>
<line x1="579.50" y1="49.10" x2="579.50" y2="56.50" stroke="#666" stroke-width="1" stroke-dasharray="1.1 1.9"/>
<line x1="578.50" y1="49.50" x2="580.50" y2="49.50" stroke="#333" stroke-width="0.9"/>
<line x1="579.50" y1="69.30" x2="579.50" y2="86.00" stroke="#666" stroke-width="1" stroke-dasharray="1.1 1.9"/>
<line x1="578.50" y1="85.60" x2="580.50" y2="85.60" stroke="#333" stroke-width="0.9"/>
<line x1="583.50" y1="47.20" x2="583.50" y2="56.60" stroke="#666" stroke-width="1" stroke-dasharray="1.1 1.9"/>
<line x1="582.50" y1="47.60" x2="584.50" y2="47.60" stroke="#333" stroke-width="0.9"/>
<line x1="583.50" y1="67.40" x2="583.50" y2="84.00" stroke="#666" stroke-width="1" stroke-dasharray="1.1 1.9"/>
<line x1="582.50" y1="83.60" x2="584.50" y2="83.60" stroke="#333" stroke-width="0.9"/>
<line x1="587.50" y1="45.90" x2="587.50" y2="55.10" stroke="#666" stroke-width="1" stroke-dasharray="1.1 1.9"/>
<line x1="586.50" y1="46.30" x2="588.50" y2="46.30" stroke="#333" stroke-width="0.9"/>
<line x1="587.50" y1="66.30" x2="587.50" y2="81.90" stroke="#666" stroke-width="1" stroke-dasharray="1.1 1.9"/>
<line x1="586.50" y1="81.50" x2="588.50" y2="81.50" stroke="#333" stroke-width="0.9"/>
<line x1="591.50" y1="45.40" x2="591.50" y2="54.00" stroke="#666" stroke-width="1" stroke-dasharray="1.1 1.9"/>
<line x1="590.50" y1="45.80" x2="592.50" y2="45.80" stroke="#333" stroke-width="0.9"/>
<line x1="591.50" y1="65.20" x2="591.50" y2="81.40" stroke="#666" stroke-width="1" stroke-dasharray="1.1 1.9"/>
<line x1="590.50" y1="81.00" x2="592.50" y2="81.00" stroke="#333" stroke-width="0.9"/>
<line x1="595.50" y1="44.30" x2="595.50" y2="52.20" stroke="#666" stroke-width="1" stroke-dasharray="1.1 1.9"/>
<line x1="594.50" y1="44.70" x2="596.50" y2="44.70" stroke="#333" stroke-width="0.9"/>
<line x1="595.50" y1="64.20" x2="595.50" y2="80.90" stroke="#666" stroke-width="1" stroke-dasharray="1.1 1.9"/>
<line x1="594.50" y1="80.50" x2="596.50" y2="80.50" stroke="#333" stroke-width="0.9"/>
<line x1="599.50" y1="44.30" x2="599.50" y2="51.40" stroke="#666" stroke-width="1" stroke-dasharray="1.1 1.9"/>
<line x1="598.50" y1="44.70" x2="600.50" y2="44.70" stroke="#333" stroke-width="0.9"/>
<line x1="599.50" y1="63.20" x2="599.50" y2="78.70" stroke="#666" stroke-width="1" stroke-dasharray="1.1 1.9"/>
<line x1="598.50" y1="78.30" x2="600.50" y2="78.30" stroke="#333" stroke-width="0.9"/>
<line x1="603.50" y1="43.80" x2="603.50" y2="50.20" stroke="#666" stroke-width="1" stroke-dasharray="1.1 1.9"/>
<line x1="602.50" y1="44.20" x2="604.50" y2="44.20" stroke="#333" stroke-width="0.9"/>
<line x1="603.50" y1="61.70" x2="603.50" y2="77.10" stroke="#666" stroke-width="1" stroke-dasharray="1.1 1.9"/>
<line x1="602.50" y1="76.70" x2="604.50" y2="76.70" stroke="#333" stroke-width="0.9"/>
<line x1="607.50" y1="42.70" x2="607.50" y2="49.60" stroke="#666" stroke-width="1" stroke-dasharray="1.1 1.9"/>
<line x1="606.50" y1="43.10" x2="608.50" y2="43.10" stroke="#333" stroke-width="0.9"/>
<line x1="607.50" y1="60.20" x2="607.50" y2="76.60" stroke="#666" stroke-width="1" stroke-dasharray="1.1 1.9"/>
<line x1="606.50" y1="76.20" x2="608.50" y2="76.20" stroke="#333" stroke-width="0.9"/>
<line x1="611.50" y1="42.70" x2="611.50" y2="48.70" stroke="#666" stroke-width="1" stroke-dasharray="1.1 1.9"/>
<line x1="610.50" y1="43.10" x2="612.50" y2="43.10" stroke="#333" stroke-width="0.9"/>
<line x1="611.50" y1="59.20" x2="611.50" y2="72.80" stroke="#666" stroke-width="1" stroke-dasharray="1.1 1.9"/>
<line x1="610.50" y1="72.40" x2="612.50" y2="72.40" stroke="#333" stroke-width="0.9"/>
<line x1="615.50" y1="42.70" x2="615.50" y2="48.00" stroke="#666" stroke-width="1" stroke-dasharray="1.1 1.9"/>
<line x1="614.50" y1="43.10" x2="616.50" y2="43.10" stroke="#333" stroke-width="0.9"/>
<line x1="615.50" y1="58.00" x2="615.50" y2="66.00" stroke="#666" stroke-width="1" stroke-dasharray="1.1 1.9"/>
<line x1="614.50" y1="65.60" x2="616.50" y2="65.60" stroke="#333" stroke-width="0.9"/>
<line x1="619.50" y1="41.60" x2="619.50" y2="47.40" stroke="#666" stroke-width="1" stroke-dasharray="1.1 1.9"/>
<line x1="618.50" y1="42.00" x2="620.50" y2="42.00" stroke="#333" stroke-width="0.9"/>
<line x1="619.50" y1="56.50" x2="619.50" y2="64.00" stroke="#666" stroke-width="1" stroke-dasharray="1.1 1.9"/>
<line x1="618.50" y1="63.60" x2="620.50" y2="63.60" stroke="#333" stroke-width="0.9"/>
<line x1="623.50" y1="39.90" x2="623.50" y2="46.10" stroke="#666" stroke-width="1" stroke-dasharray="1.1 1.9"/>
<line x1="622.50" y1="40.30" x2="624.50" y2="40.30" stroke="#333" stroke-width="0.9"/>
<line x1="623.50" y1="55.00" x2="623.50" y2="60.40" stroke="#666" stroke-width="1" stroke-dasharray="1.1 1.9"/>
<line x1="622.50" y1="60.00" x2="624.50" y2="60.00" stroke="#333" stroke-width="0.9"/>
<line x1="627.50" y1="39.10" x2="627.50" y2="45.60" stroke="#666" stroke-width="1" stroke-dasharray="1.1 1.9"/>
<line x1="626.50" y1="39.50" x2="628.50" y2="39.50" stroke="#333" stroke-width="0.9"/>
<line x1="627.50" y1="53.40" x2="627.50" y2="59.30" stroke="#666" stroke-width="1" stroke-dasharray="1.1 1.9"/>
<line x1="626.50" y1="58.90" x2="628.50" y2="58.90" stroke="#333" stroke-width="0.9"/>
<line x1="631.50" y1="39.10" x2="631.50" y2="45.60" stroke="#666" stroke-width="1" stroke-dasharray="1.1 1.9"/>
<line x1="630.50" y1="39.50" x2="632.50" y2="39.50" stroke="#333" stroke-width="0.9"/>
<line x1="631.50" y1="50.70" x2="631.50" y2="57.10" stroke="#666" stroke-width="1" stroke-dasharray="1.1 1.9"/>
<line x1="630.50" y1="56.70" x2="632.50" y2="56.70" stroke="#333" stroke-width="0.9"/>
<line x1="634.50" y1="38.60" x2="634.50" y2="44.50" stroke="#666" stroke-width="1" stroke-dasharray="1.1 1.9"/>
<line x1="633.50" y1="39.00" x2="635.50" y2="39.00" stroke="#333" stroke-width="0.9"/>
<line x1="634.50" y1="50.00" x2="634.50" y2="55.00" stroke="#666" stroke-width="1" stroke-dasharray="1.1 1.9"/>
<line x1="633.50" y1="54.60" x2="635.50" y2="54.60" stroke="#333" stroke-width="0.9"/>
<line x1="638.50" y1="38.10" x2="638.50" y2="43.60" stroke="#666" stroke-width="1" stroke-dasharray="1.1 1.9"/>
<line x1="637.50" y1="38.50" x2="639.50" y2="38.50" stroke="#333" stroke-width="0.9"/>
<line x1="638.50" y1="48.50" x2="638.50" y2="53.40" stroke="#666" stroke-width="1" stroke-dasharray="1.1 1.9"/>
<line x1="637.50" y1="53.00" x2="639.50" y2="53.00" stroke="#333" stroke-width="0.9"/>
<line x1="642.50" y1="37.00" x2="642.50" y2="43.00" stroke="#666" stroke-width="1" stroke-dasharray="1.1 1.9"/>
<line x1="641.50" y1="37.40" x2="643.50" y2="37.40" stroke="#333" stroke-width="0.9"/>
<line x1="642.50" y1="47.80" x2="642.50" y2="52.50" stroke="#666" stroke-width="1" stroke-dasharray="1.1 1.9"/>
<line x1="641.50" y1="52.10" x2="643.50" y2="52.10" stroke="#333" stroke-width="0.9"/>
<line x1="646.50" y1="37.00" x2="646.50" y2="42.50" stroke="#666" stroke-width="1" stroke-dasharray="1.1 1.9"/>
<line x1="645.50" y1="37.40" x2="647.50" y2="37.40" stroke="#333" stroke-width="0.9"/>
<line x1="646.50" y1="47.00" x2="646.50" y2="51.50" stroke="#666" stroke-width="1" stroke-dasharray="1.1 1.9"/>
<line x1="645.50" y1="51.10" x2="647.50" y2="51.10" stroke="#333" stroke-width="0.9"/>
<line x1="650.50" y1="37.00" x2="650.50" y2="41.90" stroke="#666" stroke-width="1" stroke-dasharray="1.1 1.9"/>
<line x1="649.50" y1="37.40" x2="651.50" y2="37.40" stroke="#333" stroke-width="0.9"/>
<line x1="650.50" y1="46.20" x2="650.50" y2="51.00" stroke="#666" stroke-width="1" stroke-dasharray="1.1 1.9"/>
<line x1="649.50" y1="50.60" x2="651.50" y2="50.60" stroke="#333" stroke-width="0.9"/>
<line x1="654.50" y1="37.00" x2="654.50" y2="41.20" stroke="#666" stroke-width="1" stroke-dasharray="1.1 1.9"/>
<line x1="653.50" y1="37.40" x2="655.50" y2="37.40" stroke="#333" stroke-width="0.9"/>
<line x1="654.50" y1="45.30" x2="654.50" y2="50.50" stroke="#666" stroke-width="1" stroke-dasharray="1.1 1.9"/>
<line x1="653.50" y1="50.10" x2="655.50" y2="50.10" stroke="#333" stroke-width="0.9"/>
<line x1="658.50" y1="36.50" x2="658.50" y2="40.20" stroke="#666" stroke-width="1" stroke-dasharray="1.1 1.9"/>
<line x1="657.50" y1="36.90" x2="659.50" y2="36.90" stroke="#333" stroke-width="0.9"/>
<line x1="658.50" y1="44.20" x2="658.50" y2="49.50" stroke="#666" stroke-width="1" stroke-dasharray="1.1 1.9"/>
<line x1="657.50" y1="49.10" x2="659.50" y2="49.10" stroke="#333" stroke-width="0.9"/>
<line x1="662.50" y1="35.90" x2="662.50" y2="38.40" stroke="#666" stroke-width="1" stroke-dasharray="1.1 1.9"/>
<line x1="661.50" y1="36.30" x2="663.50" y2="36.30" stroke="#333" stroke-width="0.9"/>
<line x1="662.50" y1="42.40" x2="662.50" y2="49.00" stroke="#666" stroke-width="1" stroke-dasharray="1.1 1.9"/>
<line x1="661.50" y1="48.60" x2="663.50" y2="48.60" stroke="#333" stroke-width="0.9"/>
<line x1="666.50" y1="35.60" x2="666.50" y2="37.60" stroke="#666" stroke-width="1" stroke-dasharray="1.1 1.9"/>
<line x1="665.50" y1="36.00" x2="667.50" y2="36.00" stroke="#333" stroke-width="0.9"/>
<line x1="666.50" y1="41.30" x2="666.50" y2="47.50" stroke="#666" stroke-width="1" stroke-dasharray="1.1 1.9"/>
<line x1="665.50" y1="47.10" x2="667.50" y2="47.10" stroke="#333" stroke-width="0.9"/>
<line x1="670.50" y1="35.40" x2="670.50" y2="37.00" stroke="#666" stroke-width="1" stroke-dasharray="1.1 1.9"/>
<line x1="669.50" y1="35.80" x2="671.50" y2="35.80" stroke="#333" stroke-width="0.9"/>
<line x1="670.50" y1="40.30" x2="670.50" y2="46.40" stroke="#666" stroke-width="1" stroke-dasharray="1.1 1.9"/>
<line x1="669.50" y1="46.00" x2="671.50" y2="46.00" stroke="#333" stroke-width="0.9"/>
<line x1="674.50" y1="35.20" x2="674.50" y2="36.60" stroke="#666" stroke-width="1" stroke-dasharray="1.1 1.9"/>
<line x1="673.50" y1="35.60" x2="675.50" y2="35.60" stroke="#333" stroke-width="0.9"/>
<line x1="674.50" y1="39.40" x2="674.50" y2="44.00" stroke="#666" stroke-width="1" stroke-dasharray="1.1 1.9"/>
<line x1="673.50" y1="43.60" x2="675.50" y2="43.60" stroke="#333" stroke-width="0.9"/>
<line x1="678.50" y1="35.10" x2="678.50" y2="36.30" stroke="#666" stroke-width="1" stroke-dasharray="1.1 1.9"/>
<line x1="677.50" y1="35.50" x2="679.50" y2="35.50" stroke="#333" stroke-width="0.9"/>
<line x1="678.50" y1="38.70" x2="678.50" y2="42.00" stroke="#666" stroke-width="1" stroke-dasharray="1.1 1.9"/>
<line x1="677.50" y1="41.60" x2="679.50" y2="41.60" stroke="#333" stroke-width="0.9"/>
<line x1="682.50" y1="35.00" x2="682.50" y2="36.00" stroke="#666" stroke-width="1" stroke-dasharray="1.1 1.9"/>
<line x1="681.50" y1="35.40" x2="683.50" y2="35.40" stroke="#333" stroke-width="0.9"/>
<line x1="682.50" y1="38.10" x2="682.50" y2="40.00" stroke="#666" stroke-width="1" stroke-dasharray="1.1 1.9"/>
<line x1="681.50" y1="39.60" x2="683.50" y2="39.60" stroke="#333" stroke-width="0.9"/>
<line x1="686.50" y1="35.00" x2="686.50" y2="35.80" stroke="#666" stroke-width="1" stroke-dasharray="1.1 1.9"/>
<line x1="685.50" y1="35.40" x2="687.50" y2="35.40" stroke="#333" stroke-width="0.9"/>
<line x1="686.50" y1="37.40" x2="686.50" y2="38.50" stroke="#666" stroke-width="1" stroke-dasharray="1.1 1.9"/>
<line x1="685.50" y1="38.10" x2="687.50" y2="38.10" stroke="#333" stroke-width="0.9"/>
<rect x="411.75" y="239.40" width="3.5" height="6.00" fill="#5274e0" stroke="#2b3b96" stroke-width="0.8"/>
<line x1="411.75" y1="241.50" x2="415.25" y2="241.50" stroke="#0a0a30" stroke-width="1.05"/>
<rect x="415.70" y="220.60" width="3.5" height="12.70" fill="#5274e0" stroke="#2b3b96" stroke-width="0.8"/>
<line x1="415.70" y1="230.20" x2="419.20" y2="230.20" stroke="#0a0a30" stroke-width="1.05"/>
<rect x="419.66" y="205.30" width="3.5" height="18.60" fill="#5274e0" stroke="#2b3b96" stroke-width="0.8"/>
<line x1="419.66" y1="219.00" x2="423.16" y2="219.00" stroke="#0a0a30" stroke-width="1.05"/>
<rect x="423.62" y="185.10" width="3.5" height="31.30" fill="#5274e0" stroke="#2b3b96" stroke-width="0.8"/>
<line x1="423.62" y1="208.00" x2="427.12" y2="208.00" stroke="#0a0a30" stroke-width="1.05"/>
<rect x="427.57" y="172.10" width="3.5" height="33.50" fill="#5274e0" stroke="#2b3b96" stroke-width="0.8"/>
<line x1="427.57" y1="197.10" x2="431.07" y2="197.10" stroke="#0a0a30" stroke-width="1.05"/>
<rect x="431.52" y="165.10" width="3.5" height="35.70" fill="#5274e0" stroke="#2b3b96" stroke-width="0.8"/>
<line x1="431.52" y1="189.60" x2="435.02" y2="189.60" stroke="#0a0a30" stroke-width="1.05"/>
<rect x="435.48" y="158.70" width="3.5" height="35.70" fill="#5274e0" stroke="#2b3b96" stroke-width="0.8"/>
<line x1="435.48" y1="179.50" x2="438.98" y2="179.50" stroke="#0a0a30" stroke-width="1.05"/>
<rect x="439.44" y="151.10" width="3.5" height="36.80" fill="#5274e0" stroke="#2b3b96" stroke-width="0.8"/>
<line x1="439.44" y1="169.80" x2="442.94" y2="169.80" stroke="#0a0a30" stroke-width="1.05"/>
<rect x="443.39" y="145.40" width="3.5" height="35.00" fill="#5274e0" stroke="#2b3b96" stroke-width="0.8"/>
<line x1="443.39" y1="160.20" x2="446.89" y2="160.20" stroke="#0a0a30" stroke-width="1.05"/>
<rect x="447.35" y="139.00" width="3.5" height="31.90" fill="#5274e0" stroke="#2b3b96" stroke-width="0.8"/>
<line x1="447.35" y1="154.30" x2="450.85" y2="154.30" stroke="#0a0a30" stroke-width="1.05"/>
<rect x="451.30" y="133.10" width="3.5" height="32.30" fill="#5274e0" stroke="#2b3b96" stroke-width="0.8"/>
<line x1="451.30" y1="147.50" x2="454.80" y2="147.50" stroke="#0a0a30" stroke-width="1.05"/>
<rect x="455.25" y="128.80" width="3.5" height="32.70" fill="#5274e0" stroke="#2b3b96" stroke-width="0.8"/>
<line x1="455.25" y1="140.50" x2="458.75" y2="140.50" stroke="#0a0a30" stroke-width="1.05"/>
<rect x="459.21" y="124.00" width="3.5" height="32.40" fill="#5274e0" stroke="#2b3b96" stroke-width="0.8"/>
<line x1="459.21" y1="136.20" x2="462.71" y2="136.20" stroke="#0a0a30" stroke-width="1.05"/>
<rect x="463.17" y="118.60" width="3.5" height="32.30" fill="#5274e0" stroke="#2b3b96" stroke-width="0.8"/>
<line x1="463.17" y1="132.30" x2="466.67" y2="132.30" stroke="#0a0a30" stroke-width="1.05"/>
<rect x="467.12" y="115.10" width="3.5" height="30.60" fill="#5274e0" stroke="#2b3b96" stroke-width="0.8"/>
<line x1="467.12" y1="127.60" x2="470.62" y2="127.60" stroke="#0a0a30" stroke-width="1.05"/>
<rect x="471.07" y="112.50" width="3.5" height="29.00" fill="#5274e0" stroke="#2b3b96" stroke-width="0.8"/>
<line x1="471.07" y1="123.40" x2="474.57" y2="123.40" stroke="#0a0a30" stroke-width="1.05"/>
<rect x="475.03" y="109.20" width="3.5" height="28.30" fill="#5274e0" stroke="#2b3b96" stroke-width="0.8"/>
<line x1="475.03" y1="118.80" x2="478.53" y2="118.80" stroke="#0a0a30" stroke-width="1.05"/>
<rect x="478.99" y="104.40" width="3.5" height="29.00" fill="#5274e0" stroke="#2b3b96" stroke-width="0.8"/>
<line x1="478.99" y1="116.20" x2="482.49" y2="116.20" stroke="#0a0a30" stroke-width="1.05"/>
<rect x="482.94" y="100.70" width="3.5" height="29.70" fill="#5274e0" stroke="#2b3b96" stroke-width="0.8"/>
<line x1="482.94" y1="114.00" x2="486.44" y2="114.00" stroke="#0a0a30" stroke-width="1.05"/>
<rect x="486.89" y="96.90" width="3.5" height="27.80" fill="#5274e0" stroke="#2b3b96" stroke-width="0.8"/>
<line x1="486.89" y1="109.10" x2="490.39" y2="109.10" stroke="#0a0a30" stroke-width="1.05"/>
<rect x="490.85" y="94.80" width="3.5" height="26.00" fill="#5274e0" stroke="#2b3b96" stroke-width="0.8"/>
<line x1="490.85" y1="107.50" x2="494.35" y2="107.50" stroke="#0a0a30" stroke-width="1.05"/>
<rect x="494.81" y="92.10" width="3.5" height="23.90" fill="#5274e0" stroke="#2b3b96" stroke-width="0.8"/>
<line x1="494.81" y1="103.30" x2="498.31" y2="103.30" stroke="#0a0a30" stroke-width="1.05"/>
<rect x="498.76" y="90.10" width="3.5" height="23.20" fill="#5274e0" stroke="#2b3b96" stroke-width="0.8"/>
<line x1="498.76" y1="101.10" x2="502.26" y2="101.10" stroke="#0a0a30" stroke-width="1.05"/>
<rect x="502.72" y="88.10" width="3.5" height="23.10" fill="#5274e0" stroke="#2b3b96" stroke-width="0.8"/>
<line x1="502.72" y1="98.40" x2="506.22" y2="98.40" stroke="#0a0a30" stroke-width="1.05"/>
<rect x="506.67" y="85.80" width="3.5" height="21.10" fill="#5274e0" stroke="#2b3b96" stroke-width="0.8"/>
<line x1="506.67" y1="94.70" x2="510.17" y2="94.70" stroke="#0a0a30" stroke-width="1.05"/>
<rect x="510.62" y="83.60" width="3.5" height="19.80" fill="#5274e0" stroke="#2b3b96" stroke-width="0.8"/>
<line x1="510.62" y1="92.60" x2="514.12" y2="92.60" stroke="#0a0a30" stroke-width="1.05"/>
<rect x="514.58" y="81.10" width="3.5" height="20.80" fill="#5274e0" stroke="#2b3b96" stroke-width="0.8"/>
<line x1="514.58" y1="88.80" x2="518.08" y2="88.80" stroke="#0a0a30" stroke-width="1.05"/>
<rect x="518.53" y="79.10" width="3.5" height="19.80" fill="#5274e0" stroke="#2b3b96" stroke-width="0.8"/>
<line x1="518.53" y1="87.50" x2="522.03" y2="87.50" stroke="#0a0a30" stroke-width="1.05"/>
<rect x="522.49" y="77.10" width="3.5" height="18.60" fill="#5274e0" stroke="#2b3b96" stroke-width="0.8"/>
<line x1="522.49" y1="85.50" x2="525.99" y2="85.50" stroke="#0a0a30" stroke-width="1.05"/>
<rect x="526.45" y="75.60" width="3.5" height="18.10" fill="#5274e0" stroke="#2b3b96" stroke-width="0.8"/>
<line x1="526.45" y1="83.50" x2="529.95" y2="83.50" stroke="#0a0a30" stroke-width="1.05"/>
<rect x="530.40" y="73.60" width="3.5" height="17.50" fill="#5274e0" stroke="#2b3b96" stroke-width="0.8"/>
<line x1="530.40" y1="81.60" x2="533.90" y2="81.60" stroke="#0a0a30" stroke-width="1.05"/>
<rect x="534.36" y="72.40" width="3.5" height="16.90" fill="#5274e0" stroke="#2b3b96" stroke-width="0.8"/>
<line x1="534.36" y1="80.50" x2="537.86" y2="80.50" stroke="#0a0a30" stroke-width="1.05"/>
<rect x="538.31" y="70.90" width="3.5" height="16.00" fill="#5274e0" stroke="#2b3b96" stroke-width="0.8"/>
<line x1="538.31" y1="79.00" x2="541.81" y2="79.00" stroke="#0a0a30" stroke-width="1.05"/>
<rect x="542.26" y="69.60" width="3.5" height="14.80" fill="#5274e0" stroke="#2b3b96" stroke-width="0.8"/>
<line x1="542.26" y1="76.60" x2="545.76" y2="76.60" stroke="#0a0a30" stroke-width="1.05"/>
<rect x="546.22" y="68.30" width="3.5" height="14.40" fill="#5274e0" stroke="#2b3b96" stroke-width="0.8"/>
<line x1="546.22" y1="74.60" x2="549.72" y2="74.60" stroke="#0a0a30" stroke-width="1.05"/>
<rect x="550.17" y="66.40" width="3.5" height="14.30" fill="#5274e0" stroke="#2b3b96" stroke-width="0.8"/>
<line x1="550.17" y1="73.00" x2="553.67" y2="73.00" stroke="#0a0a30" stroke-width="1.05"/>
<rect x="554.13" y="64.30" width="3.5" height="13.20" fill="#5274e0" stroke="#2b3b96" stroke-width="0.8"/>
<line x1="554.13" y1="71.20" x2="557.63" y2="71.20" stroke="#0a0a30" stroke-width="1.05"/>
<rect x="558.09" y="63.10" width="3.5" height="13.40" fill="#5274e0" stroke="#2b3b96" stroke-width="0.8"/>
<line x1="558.09" y1="69.20" x2="561.59" y2="69.20" stroke="#0a0a30" stroke-width="1.05"/>
<rect x="562.04" y="61.80" width="3.5" height="13.30" fill="#5274e0" stroke="#2b3b96" stroke-width="0.8"/>
<line x1="562.04" y1="68.10" x2="565.54" y2="68.10" stroke="#0a0a30" stroke-width="1.05"/>
<rect x="566.00" y="60.40" width="3.5" height="13.30" fill="#5274e0" stroke="#2b3b96" stroke-width="0.8"/>
<line x1="566.00" y1="67.10" x2="569.50" y2="67.10" stroke="#0a0a30" stroke-width="1.05"/>
<rect x="569.95" y="59.30" width="3.5" height="12.60" fill="#5274e0" stroke="#2b3b96" stroke-width="0.8"/>
<line x1="569.95" y1="65.60" x2="573.45" y2="65.60" stroke="#0a0a30" stroke-width="1.05"/>
<rect x="573.90" y="58.30" width="3.5" height="12.40" fill="#5274e0" stroke="#2b3b96" stroke-width="0.8"/>
<line x1="573.90" y1="64.10" x2="577.40" y2="64.10" stroke="#0a0a30" stroke-width="1.05"/>
<rect x="577.86" y="56.60" width="3.5" height="12.60" fill="#5274e0" stroke="#2b3b96" stroke-width="0.8"/>
<line x1="577.86" y1="62.80" x2="581.36" y2="62.80" stroke="#0a0a30" stroke-width="1.05"/>
<rect x="581.82" y="56.70" width="3.5" height="10.60" fill="#5274e0" stroke="#2b3b96" stroke-width="0.8"/>
<line x1="581.82" y1="61.50" x2="585.32" y2="61.50" stroke="#0a0a30" stroke-width="1.05"/>
<rect x="585.77" y="55.20" width="3.5" height="11.00" fill="#5274e0" stroke="#2b3b96" stroke-width="0.8"/>
<line x1="585.77" y1="60.50" x2="589.27" y2="60.50" stroke="#0a0a30" stroke-width="1.05"/>
<rect x="589.73" y="54.10" width="3.5" height="11.00" fill="#5274e0" stroke="#2b3b96" stroke-width="0.8"/>
<line x1="589.73" y1="59.10" x2="593.23" y2="59.10" stroke="#0a0a30" stroke-width="1.05"/>
<rect x="593.68" y="52.30" width="3.5" height="11.80" fill="#5274e0" stroke="#2b3b96" stroke-width="0.8"/>
<line x1="593.68" y1="57.60" x2="597.18" y2="57.60" stroke="#0a0a30" stroke-width="1.05"/>
<rect x="597.63" y="51.50" width="3.5" height="11.60" fill="#5274e0" stroke="#2b3b96" stroke-width="0.8"/>
<line x1="597.63" y1="56.50" x2="601.13" y2="56.50" stroke="#0a0a30" stroke-width="1.05"/>
<rect x="601.59" y="50.30" width="3.5" height="11.30" fill="#5274e0" stroke="#2b3b96" stroke-width="0.8"/>
<line x1="601.59" y1="55.10" x2="605.09" y2="55.10" stroke="#0a0a30" stroke-width="1.05"/>
<rect x="605.55" y="49.70" width="3.5" height="10.40" fill="#5274e0" stroke="#2b3b96" stroke-width="0.8"/>
<line x1="605.55" y1="52.90" x2="609.05" y2="52.90" stroke="#0a0a30" stroke-width="1.05"/>
<rect x="609.50" y="48.80" width="3.5" height="10.30" fill="#5274e0" stroke="#2b3b96" stroke-width="0.8"/>
<line x1="609.50" y1="52.20" x2="613.00" y2="52.20" stroke="#0a0a30" stroke-width="1.05"/>
<rect x="613.46" y="48.10" width="3.5" height="9.80" fill="#5274e0" stroke="#2b3b96" stroke-width="0.8"/>
<line x1="613.46" y1="51.60" x2="616.96" y2="51.60" stroke="#0a0a30" stroke-width="1.05"/>
<rect x="617.41" y="47.50" width="3.5" height="8.90" fill="#5274e0" stroke="#2b3b96" stroke-width="0.8"/>
<line x1="617.41" y1="50.60" x2="620.91" y2="50.60" stroke="#0a0a30" stroke-width="1.05"/>
<rect x="621.37" y="46.20" width="3.5" height="8.70" fill="#5274e0" stroke="#2b3b96" stroke-width="0.8"/>
<line x1="621.37" y1="49.40" x2="624.87" y2="49.40" stroke="#0a0a30" stroke-width="1.05"/>
<rect x="625.32" y="45.70" width="3.5" height="7.60" fill="#5274e0" stroke="#2b3b96" stroke-width="0.8"/>
<line x1="625.32" y1="48.20" x2="628.82" y2="48.20" stroke="#0a0a30" stroke-width="1.05"/>
<rect x="629.27" y="45.70" width="3.5" height="4.90" fill="#5274e0" stroke="#2b3b96" stroke-width="0.8"/>
<line x1="629.27" y1="48.00" x2="632.77" y2="48.00" stroke="#0a0a30" stroke-width="1.05"/>
<rect x="633.23" y="44.60" width="3.5" height="5.30" fill="#5274e0" stroke="#2b3b96" stroke-width="0.8"/>
<line x1="633.23" y1="47.00" x2="636.73" y2="47.00" stroke="#0a0a30" stroke-width="1.05"/>
<rect x="637.18" y="43.70" width="3.5" height="4.70" fill="#5274e0" stroke="#2b3b96" stroke-width="0.8"/>
<line x1="637.18" y1="45.80" x2="640.68" y2="45.80" stroke="#0a0a30" stroke-width="1.05"/>
<rect x="641.14" y="43.10" width="3.5" height="4.60" fill="#4f70db" stroke="#2b3b96" stroke-width="0.8"/>
<line x1="641.14" y1="45.00" x2="644.64" y2="45.00" stroke="#0a0a30" stroke-width="1.05"/>
<rect x="645.10" y="42.60" width="3.5" height="4.30" fill="#4d6cd6" stroke="#2b3b96" stroke-width="0.8"/>
<line x1="645.10" y1="44.20" x2="648.60" y2="44.20" stroke="#0a0a30" stroke-width="1.05"/>
<rect x="649.05" y="42.00" width="3.5" height="4.10" fill="#4a68d1" stroke="#2b3b96" stroke-width="0.8"/>
<line x1="649.05" y1="43.40" x2="652.55" y2="43.40" stroke="#0a0a30" stroke-width="1.05"/>
<rect x="653.00" y="41.30" width="3.5" height="3.90" fill="#4865cc" stroke="#2b3b96" stroke-width="0.8"/>
<line x1="653.00" y1="42.50" x2="656.50" y2="42.50" stroke="#0a0a30" stroke-width="1.05"/>
<rect x="656.96" y="40.30" width="3.5" height="3.80" fill="#4561c7" stroke="#2b3b96" stroke-width="0.8"/>
<line x1="656.96" y1="41.60" x2="660.46" y2="41.60" stroke="#0a0a30" stroke-width="1.05"/>
<rect x="660.91" y="38.50" width="3.5" height="3.80" fill="#435dc2" stroke="#2b3b96" stroke-width="0.8"/>
<line x1="660.91" y1="40.30" x2="664.41" y2="40.30" stroke="#0a0a30" stroke-width="1.05"/>
<rect x="664.87" y="37.70" width="3.5" height="3.50" fill="#415abd" stroke="#2b3b96" stroke-width="0.8"/>
<line x1="664.87" y1="39.30" x2="668.37" y2="39.30" stroke="#0a0a30" stroke-width="1.05"/>
<rect x="668.83" y="37.10" width="3.5" height="3.10" fill="#3e56b8" stroke="#2b3b96" stroke-width="0.8"/>
<line x1="668.83" y1="38.60" x2="672.33" y2="38.60" stroke="#0a0a30" stroke-width="1.05"/>
<rect x="672.78" y="36.70" width="3.5" height="2.60" fill="#3c52b3" stroke="#2b3b96" stroke-width="0.8"/>
<line x1="672.78" y1="37.90" x2="676.28" y2="37.90" stroke="#0a0a30" stroke-width="1.05"/>
<rect x="676.74" y="36.40" width="3.5" height="2.20" fill="#394eae" stroke="#2b3b96" stroke-width="0.8"/>
<line x1="676.74" y1="37.40" x2="680.24" y2="37.40" stroke="#0a0a30" stroke-width="1.05"/>
<rect x="680.69" y="36.10" width="3.5" height="1.90" fill="#374ba9" stroke="#2b3b96" stroke-width="0.8"/>
<line x1="680.69" y1="37.00" x2="684.19" y2="37.00" stroke="#0a0a30" stroke-width="1.05"/>
<rect x="684.64" y="35.90" width="3.5" height="1.40" fill="#3447a4" stroke="#2b3b96" stroke-width="0.8"/>
<line x1="684.64" y1="36.50" x2="688.14" y2="36.50" stroke="#0a0a30" stroke-width="1.05"/>
<rect x="688.60" y="35.70" width="3.5" height="1.00" fill="#32439f" stroke="#2b3b96" stroke-width="0.8"/>
<line x1="688.60" y1="36.10" x2="692.10" y2="36.10" stroke="#0a0a30" stroke-width="1.05"/>
<rect x="692.56" y="35.20" width="3.5" height="0.80" fill="#30409a" stroke="#2b3b96" stroke-width="0.8"/>
<line x1="692.56" y1="35.60" x2="696.06" y2="35.60" stroke="#0a0a30" stroke-width="1.05"/>
<circle cx="413.50" cy="194.70" r="1.8" fill="none" stroke="#262626" stroke-width="0.9"/>
<circle cx="413.50" cy="196.50" r="1.8" fill="none" stroke="#262626" stroke-width="0.9"/>
<circle cx="413.50" cy="211.70" r="1.8" fill="none" stroke="#262626" stroke-width="0.9"/>
<circle cx="413.50" cy="223.60" r="1.8" fill="none" stroke="#262626" stroke-width="0.9"/>
<circle cx="417.45" cy="159.50" r="1.8" fill="none" stroke="#262626" stroke-width="0.9"/>
<circle cx="417.45" cy="178.00" r="1.8" fill="none" stroke="#262626" stroke-width="0.9"/>
<circle cx="417.45" cy="181.00" r="1.8" fill="none" stroke="#262626" stroke-width="0.9"/>
<circle cx="417.45" cy="185.00" r="1.8" fill="none" stroke="#262626" stroke-width="0.9"/>
<circle cx="417.45" cy="194.00" r="1.8" fill="none" stroke="#262626" stroke-width="0.9"/>
<circle cx="417.45" cy="195.50" r="1.8" fill="none" stroke="#262626" stroke-width="0.9"/>
<circle cx="421.41" cy="152.80" r="1.8" fill="none" stroke="#262626" stroke-width="0.9"/>
<circle cx="421.41" cy="162.90" r="1.8" fill="none" stroke="#262626" stroke-width="0.9"/>
<circle cx="421.41" cy="170.50" r="1.8" fill="none" stroke="#262626" stroke-width="0.9"/>
<circle cx="421.41" cy="172.00" r="1.8" fill="none" stroke="#262626" stroke-width="0.9"/>
<circle cx="421.41" cy="173.50" r="1.8" fill="none" stroke="#262626" stroke-width="0.9"/>
<circle cx="492.60" cy="163.10" r="1.8" fill="none" stroke="#262626" stroke-width="0.9"/>
<circle cx="496.56" cy="163.10" r="1.8" fill="none" stroke="#262626" stroke-width="0.9"/>
<circle cx="500.51" cy="161.80" r="1.8" fill="none" stroke="#262626" stroke-width="0.9"/>
<circle cx="504.47" cy="161.60" r="1.8" fill="none" stroke="#262626" stroke-width="0.9"/>
<circle cx="504.47" cy="145.70" r="1.8" fill="none" stroke="#262626" stroke-width="0.9"/>
<circle cx="508.42" cy="145.20" r="1.8" fill="none" stroke="#262626" stroke-width="0.9"/>
<circle cx="508.42" cy="148.40" r="1.8" fill="none" stroke="#262626" stroke-width="0.9"/>
<circle cx="512.38" cy="148.40" r="1.8" fill="none" stroke="#262626" stroke-width="0.9"/>
<circle cx="512.38" cy="142.50" r="1.8" fill="none" stroke="#262626" stroke-width="0.9"/>
<circle cx="512.38" cy="138.20" r="1.8" fill="none" stroke="#262626" stroke-width="0.9"/>
<circle cx="512.38" cy="138.00" r="1.8" fill="none" stroke="#262626" stroke-width="0.9"/>
<circle cx="516.33" cy="138.00" r="1.8" fill="none" stroke="#262626" stroke-width="0.9"/>
<circle cx="520.28" cy="136.40" r="1.8" fill="none" stroke="#262626" stroke-width="0.9"/>
<circle cx="520.28" cy="133.20" r="1.8" fill="none" stroke="#262626" stroke-width="0.9"/>
<circle cx="520.28" cy="127.80" r="1.8" fill="none" stroke="#262626" stroke-width="0.9"/>
<circle cx="524.24" cy="133.70" r="1.8" fill="none" stroke="#262626" stroke-width="0.9"/>
<circle cx="524.24" cy="128.40" r="1.8" fill="none" stroke="#262626" stroke-width="0.9"/>
<circle cx="524.24" cy="124.60" r="1.8" fill="none" stroke="#262626" stroke-width="0.9"/>
<circle cx="528.20" cy="131.00" r="1.8" fill="none" stroke="#262626" stroke-width="0.9"/>
<circle cx="528.20" cy="127.80" r="1.8" fill="none" stroke="#262626" stroke-width="0.9"/>
<circle cx="528.20" cy="124.00" r="1.8" fill="none" stroke="#262626" stroke-width="0.9"/>
<circle cx="532.15" cy="130.50" r="1.8" fill="none" stroke="#262626" stroke-width="0.9"/>
<circle cx="532.15" cy="123.50" r="1.8" fill="none" stroke="#262626" stroke-width="0.9"/>
<circle cx="536.11" cy="127.30" r="1.8" fill="none" stroke="#262626" stroke-width="0.9"/>
<circle cx="536.11" cy="123.00" r="1.8" fill="none" stroke="#262626" stroke-width="0.9"/>
<circle cx="540.06" cy="124.00" r="1.8" fill="none" stroke="#262626" stroke-width="0.9"/>
<circle cx="540.06" cy="121.40" r="1.8" fill="none" stroke="#262626" stroke-width="0.9"/>
<circle cx="544.01" cy="122.00" r="1.8" fill="none" stroke="#262626" stroke-width="0.9"/>
<circle cx="544.01" cy="118.70" r="1.8" fill="none" stroke="#262626" stroke-width="0.9"/>
<circle cx="547.97" cy="124.60" r="1.8" fill="none" stroke="#262626" stroke-width="0.9"/>
<circle cx="547.97" cy="113.20" r="1.8" fill="none" stroke="#262626" stroke-width="0.9"/>
<circle cx="551.92" cy="114.30" r="1.8" fill="none" stroke="#262626" stroke-width="0.9"/>
<circle cx="551.92" cy="115.90" r="1.8" fill="none" stroke="#262626" stroke-width="0.9"/>
<circle cx="555.88" cy="113.70" r="1.8" fill="none" stroke="#262626" stroke-width="0.9"/>
<circle cx="555.88" cy="111.00" r="1.8" fill="none" stroke="#262626" stroke-width="0.9"/>
<circle cx="559.84" cy="112.70" r="1.8" fill="none" stroke="#262626" stroke-width="0.9"/>
<circle cx="559.84" cy="110.50" r="1.8" fill="none" stroke="#262626" stroke-width="0.9"/>
<circle cx="559.84" cy="100.30" r="1.8" fill="none" stroke="#262626" stroke-width="0.9"/>
<circle cx="563.79" cy="110.50" r="1.8" fill="none" stroke="#262626" stroke-width="0.9"/>
<circle cx="563.79" cy="99.30" r="1.8" fill="none" stroke="#262626" stroke-width="0.9"/>
<circle cx="567.75" cy="98.70" r="1.8" fill="none" stroke="#262626" stroke-width="0.9"/>
<circle cx="575.65" cy="97.10" r="1.8" fill="none" stroke="#262626" stroke-width="0.9"/>
<circle cx="579.61" cy="96.60" r="1.8" fill="none" stroke="#262626" stroke-width="0.9"/>
<circle cx="579.61" cy="93.90" r="1.8" fill="none" stroke="#262626" stroke-width="0.9"/>
<circle cx="583.57" cy="97.10" r="1.8" fill="none" stroke="#262626" stroke-width="0.9"/>
<circle cx="583.57" cy="91.80" r="1.8" fill="none" stroke="#262626" stroke-width="0.9"/>
<circle cx="587.52" cy="95.90" r="1.8" fill="none" stroke="#262626" stroke-width="0.9"/>
<circle cx="587.52" cy="93.40" r="1.8" fill="none" stroke="#262626" stroke-width="0.9"/>
<circle cx="587.52" cy="88.90" r="1.8" fill="none" stroke="#262626" stroke-width="0.9"/>
<circle cx="587.52" cy="86.20" r="1.8" fill="none" stroke="#262626" stroke-width="0.9"/>
<circle cx="591.48" cy="88.90" r="1.8" fill="none" stroke="#262626" stroke-width="0.9"/>
<circle cx="591.48" cy="85.70" r="1.8" fill="none" stroke="#262626" stroke-width="0.9"/>
<circle cx="595.43" cy="87.80" r="1.8" fill="none" stroke="#262626" stroke-width="0.9"/>
<circle cx="595.43" cy="85.10" r="1.8" fill="none" stroke="#262626" stroke-width="0.9"/>
<circle cx="599.38" cy="84.10" r="1.8" fill="none" stroke="#262626" stroke-width="0.9"/>
<circle cx="603.34" cy="83.50" r="1.8" fill="none" stroke="#262626" stroke-width="0.9"/>
<circle cx="607.30" cy="80.90" r="1.8" fill="none" stroke="#262626" stroke-width="0.9"/>
<circle cx="615.21" cy="71.80" r="1.8" fill="none" stroke="#262626" stroke-width="0.9"/>
<circle cx="619.16" cy="71.80" r="1.8" fill="none" stroke="#262626" stroke-width="0.9"/>
<circle cx="619.16" cy="68.50" r="1.8" fill="none" stroke="#262626" stroke-width="0.9"/>
<circle cx="623.12" cy="71.60" r="1.8" fill="none" stroke="#262626" stroke-width="0.9"/>
<circle cx="623.12" cy="68.40" r="1.8" fill="none" stroke="#262626" stroke-width="0.9"/>
<circle cx="623.12" cy="70.00" r="1.8" fill="none" stroke="#262626" stroke-width="0.9"/>
<circle cx="627.07" cy="66.80" r="1.8" fill="none" stroke="#262626" stroke-width="0.9"/>
<circle cx="627.07" cy="63.50" r="1.8" fill="none" stroke="#262626" stroke-width="0.9"/>
<circle cx="627.07" cy="65.20" r="1.8" fill="none" stroke="#262626" stroke-width="0.9"/>
<circle cx="631.02" cy="65.70" r="1.8" fill="none" stroke="#262626" stroke-width="0.9"/>
<circle cx="631.02" cy="61.90" r="1.8" fill="none" stroke="#262626" stroke-width="0.9"/>
<circle cx="631.02" cy="63.60" r="1.8" fill="none" stroke="#262626" stroke-width="0.9"/>
<circle cx="634.98" cy="65.10" r="1.8" fill="none" stroke="#262626" stroke-width="0.9"/>
<circle cx="634.98" cy="61.40" r="1.8" fill="none" stroke="#262626" stroke-width="0.9"/>
<circle cx="634.98" cy="63.20" r="1.8" fill="none" stroke="#262626" stroke-width="0.9"/>
<circle cx="638.93" cy="61.90" r="1.8" fill="none" stroke="#262626" stroke-width="0.9"/>
<circle cx="638.93" cy="58.20" r="1.8" fill="none" stroke="#262626" stroke-width="0.9"/>
<circle cx="638.93" cy="60.00" r="1.8" fill="none" stroke="#262626" stroke-width="0.9"/>
<circle cx="642.89" cy="60.90" r="1.8" fill="none" stroke="#262626" stroke-width="0.9"/>
<circle cx="642.89" cy="57.10" r="1.8" fill="none" stroke="#262626" stroke-width="0.9"/>
<circle cx="642.89" cy="59.00" r="1.8" fill="none" stroke="#262626" stroke-width="0.9"/>
<circle cx="646.85" cy="60.30" r="1.8" fill="none" stroke="#262626" stroke-width="0.9"/>
<circle cx="646.85" cy="57.10" r="1.8" fill="none" stroke="#262626" stroke-width="0.9"/>
<circle cx="646.85" cy="58.60" r="1.8" fill="none" stroke="#262626" stroke-width="0.9"/>
<circle cx="650.80" cy="60.30" r="1.8" fill="none" stroke="#262626" stroke-width="0.9"/>
<circle cx="650.80" cy="57.10" r="1.8" fill="none" stroke="#262626" stroke-width="0.9"/>
<circle cx="650.80" cy="58.60" r="1.8" fill="none" stroke="#262626" stroke-width="0.9"/>
<circle cx="654.75" cy="60.30" r="1.8" fill="none" stroke="#262626" stroke-width="0.9"/>
<circle cx="654.75" cy="57.10" r="1.8" fill="none" stroke="#262626" stroke-width="0.9"/>
<circle cx="658.71" cy="59.50" r="1.8" fill="none" stroke="#262626" stroke-width="0.9"/>
<circle cx="658.71" cy="56.00" r="1.8" fill="none" stroke="#262626" stroke-width="0.9"/>
<circle cx="662.66" cy="58.50" r="1.8" fill="none" stroke="#262626" stroke-width="0.9"/>
<circle cx="662.66" cy="55.60" r="1.8" fill="none" stroke="#262626" stroke-width="0.9"/>
<circle cx="666.62" cy="58.40" r="1.8" fill="none" stroke="#262626" stroke-width="0.9"/>
<circle cx="666.62" cy="55.70" r="1.8" fill="none" stroke="#262626" stroke-width="0.9"/>
<circle cx="670.58" cy="53.00" r="1.8" fill="none" stroke="#262626" stroke-width="0.9"/>
<circle cx="670.58" cy="50.90" r="1.8" fill="none" stroke="#262626" stroke-width="0.9"/>
<circle cx="670.58" cy="52.00" r="1.8" fill="none" stroke="#262626" stroke-width="0.9"/>
<circle cx="674.53" cy="53.00" r="1.8" fill="none" stroke="#262626" stroke-width="0.9"/>
<circle cx="674.53" cy="47.10" r="1.8" fill="none" stroke="#262626" stroke-width="0.9"/>
<circle cx="674.53" cy="49.50" r="1.8" fill="none" stroke="#262626" stroke-width="0.9"/>
<circle cx="674.53" cy="45.00" r="1.8" fill="none" stroke="#262626" stroke-width="0.9"/>
<circle cx="678.49" cy="46.60" r="1.8" fill="none" stroke="#262626" stroke-width="0.9"/>
<circle cx="678.49" cy="43.90" r="1.8" fill="none" stroke="#262626" stroke-width="0.9"/>
<circle cx="678.49" cy="45.20" r="1.8" fill="none" stroke="#262626" stroke-width="0.9"/>
<circle cx="682.44" cy="43.90" r="1.8" fill="none" stroke="#262626" stroke-width="0.9"/>
<circle cx="682.44" cy="41.80" r="1.8" fill="none" stroke="#262626" stroke-width="0.9"/>
<circle cx="682.44" cy="42.80" r="1.8" fill="none" stroke="#262626" stroke-width="0.9"/>
<circle cx="686.39" cy="42.30" r="1.8" fill="none" stroke="#262626" stroke-width="0.9"/>
<circle cx="686.39" cy="40.20" r="1.8" fill="none" stroke="#262626" stroke-width="0.9"/>
<circle cx="686.39" cy="41.20" r="1.8" fill="none" stroke="#262626" stroke-width="0.9"/>
<circle cx="690.35" cy="40.70" r="1.8" fill="none" stroke="#262626" stroke-width="0.9"/>
<circle cx="690.35" cy="38.60" r="1.8" fill="none" stroke="#262626" stroke-width="0.9"/>
<circle cx="690.35" cy="39.60" r="1.8" fill="none" stroke="#262626" stroke-width="0.9"/>
<circle cx="694.31" cy="37.50" r="1.8" fill="none" stroke="#262626" stroke-width="0.9"/>
</svg>
</body></html>
